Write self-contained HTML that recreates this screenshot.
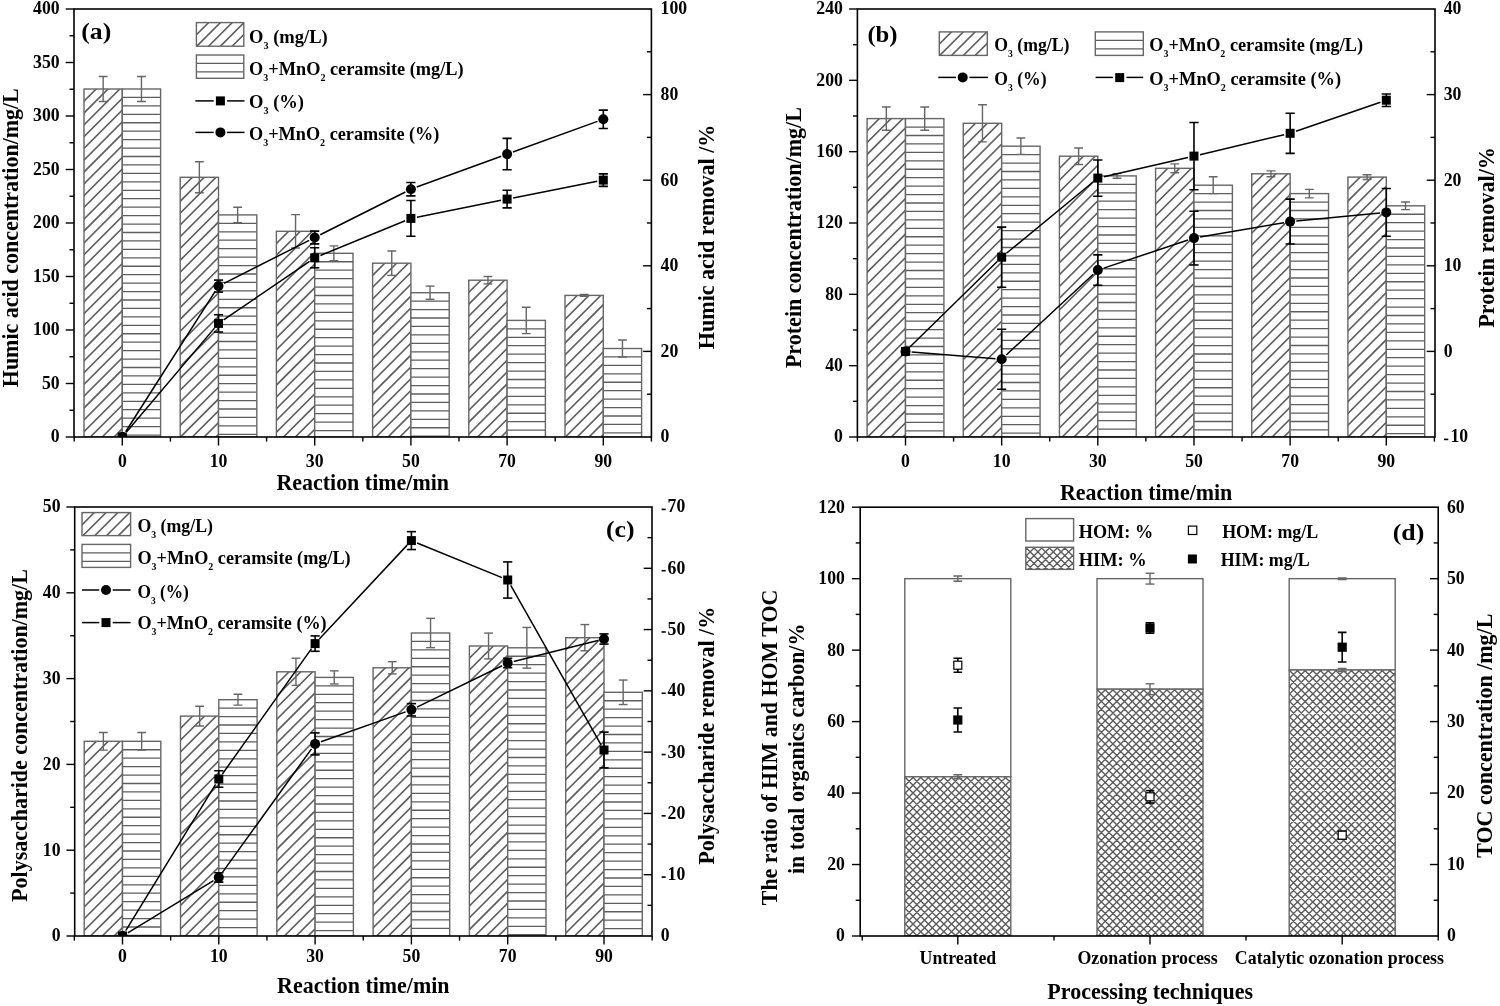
<!DOCTYPE html><html><head><meta charset="utf-8"><style>html,body{margin:0;padding:0;background:#fff;}svg{display:block;will-change:transform;}</style></head><body><svg width="1500" height="1006" viewBox="0 0 1500 1006" font-family="'Liberation Serif', serif" font-weight="bold" fill="#000">
<defs>
 <clipPath id="clipA"><rect x="74" y="9" width="577.4" height="428"/></clipPath>
 <clipPath id="clipB"><rect x="857.4" y="9" width="577.6" height="428"/></clipPath>
 <clipPath id="clipC"><rect x="74.7" y="507" width="577.3" height="429"/></clipPath>
 <clipPath id="clipD"><rect x="860.2" y="507.2" width="578" height="428.8"/></clipPath>
<clipPath id="c0"><rect x="84" y="89" width="38.3" height="348"/></clipPath><clipPath id="c1"><rect x="122.3" y="89" width="38.3" height="348"/></clipPath><clipPath id="c2"><rect x="180.2" y="177.3" width="38.3" height="259.7"/></clipPath><clipPath id="c3"><rect x="218.5" y="214.9" width="38.3" height="222.1"/></clipPath><clipPath id="c4"><rect x="276.4" y="231.3" width="38.3" height="205.7"/></clipPath><clipPath id="c5"><rect x="314.7" y="253.3" width="38.3" height="183.7"/></clipPath><clipPath id="c6"><rect x="372.6" y="263.2" width="38.3" height="173.8"/></clipPath><clipPath id="c7"><rect x="410.9" y="292.7" width="38.3" height="144.3"/></clipPath><clipPath id="c8"><rect x="468.8" y="280.2" width="38.3" height="156.8"/></clipPath><clipPath id="c9"><rect x="507.1" y="320.4" width="38.3" height="116.6"/></clipPath><clipPath id="c10"><rect x="565" y="295.4" width="38.3" height="141.6"/></clipPath><clipPath id="c11"><rect x="603.3" y="348.5" width="38.3" height="88.5"/></clipPath><clipPath id="c12"><rect x="196.4" y="22.6" width="47.4" height="23.6"/></clipPath><clipPath id="c13"><rect x="196.4" y="55" width="47.4" height="23.3"/></clipPath><clipPath id="c14"><rect x="867.1" y="118.6" width="38.4" height="318.4"/></clipPath><clipPath id="c15"><rect x="905.5" y="118.6" width="38.4" height="318.4"/></clipPath><clipPath id="c16"><rect x="963.26" y="123.3" width="38.4" height="313.7"/></clipPath><clipPath id="c17"><rect x="1001.66" y="146.2" width="38.4" height="290.8"/></clipPath><clipPath id="c18"><rect x="1059.42" y="156.2" width="38.4" height="280.8"/></clipPath><clipPath id="c19"><rect x="1097.82" y="175.9" width="38.4" height="261.1"/></clipPath><clipPath id="c20"><rect x="1155.58" y="168.3" width="38.4" height="268.7"/></clipPath><clipPath id="c21"><rect x="1193.98" y="185.2" width="38.4" height="251.8"/></clipPath><clipPath id="c22"><rect x="1251.74" y="173.8" width="38.4" height="263.2"/></clipPath><clipPath id="c23"><rect x="1290.14" y="193.6" width="38.4" height="243.4"/></clipPath><clipPath id="c24"><rect x="1347.9" y="177.1" width="38.4" height="259.9"/></clipPath><clipPath id="c25"><rect x="1386.3" y="205.8" width="38.4" height="231.2"/></clipPath><clipPath id="c26"><rect x="939.3" y="31.9" width="48" height="23.5"/></clipPath><clipPath id="c27"><rect x="1095.3" y="31.9" width="48" height="23.5"/></clipPath><clipPath id="c28"><rect x="84.2" y="741.3" width="38.3" height="194.7"/></clipPath><clipPath id="c29"><rect x="122.5" y="741.3" width="38.3" height="194.7"/></clipPath><clipPath id="c30"><rect x="180.5" y="716.1" width="38.3" height="219.9"/></clipPath><clipPath id="c31"><rect x="218.8" y="699.7" width="38.3" height="236.3"/></clipPath><clipPath id="c32"><rect x="276.8" y="671.8" width="38.3" height="264.2"/></clipPath><clipPath id="c33"><rect x="315.1" y="677.4" width="38.3" height="258.6"/></clipPath><clipPath id="c34"><rect x="373.1" y="667.8" width="38.3" height="268.2"/></clipPath><clipPath id="c35"><rect x="411.4" y="633" width="38.3" height="303"/></clipPath><clipPath id="c36"><rect x="469.4" y="646" width="38.3" height="290"/></clipPath><clipPath id="c37"><rect x="507.7" y="647.8" width="38.3" height="288.2"/></clipPath><clipPath id="c38"><rect x="565.7" y="637.7" width="38.3" height="298.3"/></clipPath><clipPath id="c39"><rect x="604" y="692.3" width="38.3" height="243.7"/></clipPath><clipPath id="c40"><rect x="82" y="512.6" width="48.6" height="23"/></clipPath><clipPath id="c41"><rect x="82" y="544.4" width="48.6" height="23"/></clipPath><clipPath id="c42"><rect x="904.8" y="776.8" width="106" height="159.2"/></clipPath><clipPath id="c43"><rect x="1097" y="689.2" width="106" height="246.8"/></clipPath><clipPath id="c44"><rect x="1289.2" y="670" width="106" height="266"/></clipPath><clipPath id="c45"><rect x="1025.8" y="547.3" width="47.8" height="22.1"/></clipPath></defs>
<rect width="1500" height="1006" fill="#fff"/><g clip-path="url(#clipA)">
<rect x="84" y="89" width="38.3" height="348" fill="#fff"/>
<path clip-path="url(#c0)" d="M82,91.4L124.3,49.1M82,103.2L124.3,60.9M82,115L124.3,72.7M82,126.8L124.3,84.5M82,138.6L124.3,96.3M82,150.4L124.3,108.1M82,162.2L124.3,119.9M82,174L124.3,131.7M82,185.8L124.3,143.5M82,197.6L124.3,155.3M82,209.4L124.3,167.1M82,221.2L124.3,178.9M82,233L124.3,190.7M82,244.8L124.3,202.5M82,256.6L124.3,214.3M82,268.4L124.3,226.1M82,280.2L124.3,237.9M82,292L124.3,249.7M82,303.8L124.3,261.5M82,315.6L124.3,273.3M82,327.4L124.3,285.1M82,339.2L124.3,296.9M82,351L124.3,308.7M82,362.8L124.3,320.5M82,374.6L124.3,332.3M82,386.4L124.3,344.1M82,398.2L124.3,355.9M82,410L124.3,367.7M82,421.8L124.3,379.5M82,433.6L124.3,391.3M82,445.4L124.3,403.1M82,457.2L124.3,414.9M82,469L124.3,426.7" stroke="#5e5e5e" stroke-width="1.6" fill="none"/>
<rect x="84" y="89" width="38.3" height="348" fill="none" stroke="#666666" stroke-width="1.4"/>
<rect x="122.3" y="89" width="38.3" height="348" fill="#fff"/>
<path clip-path="url(#c1)" d="M122.3,97.44H160.6M122.3,105.88H160.6M122.3,114.32H160.6M122.3,122.76H160.6M122.3,131.2H160.6M122.3,139.64H160.6M122.3,148.08H160.6M122.3,156.52H160.6M122.3,164.96H160.6M122.3,173.4H160.6M122.3,181.84H160.6M122.3,190.28H160.6M122.3,198.72H160.6M122.3,207.16H160.6M122.3,215.6H160.6M122.3,224.04H160.6M122.3,232.48H160.6M122.3,240.92H160.6M122.3,249.36H160.6M122.3,257.8H160.6M122.3,266.24H160.6M122.3,274.68H160.6M122.3,283.12H160.6M122.3,291.56H160.6M122.3,300H160.6M122.3,308.44H160.6M122.3,316.88H160.6M122.3,325.32H160.6M122.3,333.76H160.6M122.3,342.2H160.6M122.3,350.64H160.6M122.3,359.08H160.6M122.3,367.52H160.6M122.3,375.96H160.6M122.3,384.4H160.6M122.3,392.84H160.6M122.3,401.28H160.6M122.3,409.72H160.6M122.3,418.16H160.6M122.3,426.6H160.6M122.3,435.04H160.6" stroke="#5e5e5e" stroke-width="1.3" fill="none"/>
<rect x="122.3" y="89" width="38.3" height="348" fill="none" stroke="#666666" stroke-width="1.4"/>
<rect x="180.2" y="177.3" width="38.3" height="259.7" fill="#fff"/>
<path clip-path="url(#c2)" d="M178.2,179.7L220.5,137.4M178.2,191.5L220.5,149.2M178.2,203.3L220.5,161M178.2,215.1L220.5,172.8M178.2,226.9L220.5,184.6M178.2,238.7L220.5,196.4M178.2,250.5L220.5,208.2M178.2,262.3L220.5,220M178.2,274.1L220.5,231.8M178.2,285.9L220.5,243.6M178.2,297.7L220.5,255.4M178.2,309.5L220.5,267.2M178.2,321.3L220.5,279M178.2,333.1L220.5,290.8M178.2,344.9L220.5,302.6M178.2,356.7L220.5,314.4M178.2,368.5L220.5,326.2M178.2,380.3L220.5,338M178.2,392.1L220.5,349.8M178.2,403.9L220.5,361.6M178.2,415.7L220.5,373.4M178.2,427.5L220.5,385.2M178.2,439.3L220.5,397M178.2,451.1L220.5,408.8M178.2,462.9L220.5,420.6M178.2,474.7L220.5,432.4" stroke="#5e5e5e" stroke-width="1.6" fill="none"/>
<rect x="180.2" y="177.3" width="38.3" height="259.7" fill="none" stroke="#666666" stroke-width="1.4"/>
<rect x="218.5" y="214.9" width="38.3" height="222.1" fill="#fff"/>
<path clip-path="url(#c3)" d="M218.5,223.34H256.8M218.5,231.78H256.8M218.5,240.22H256.8M218.5,248.66H256.8M218.5,257.1H256.8M218.5,265.54H256.8M218.5,273.98H256.8M218.5,282.42H256.8M218.5,290.86H256.8M218.5,299.3H256.8M218.5,307.74H256.8M218.5,316.18H256.8M218.5,324.62H256.8M218.5,333.06H256.8M218.5,341.5H256.8M218.5,349.94H256.8M218.5,358.38H256.8M218.5,366.82H256.8M218.5,375.26H256.8M218.5,383.7H256.8M218.5,392.14H256.8M218.5,400.58H256.8M218.5,409.02H256.8M218.5,417.46H256.8M218.5,425.9H256.8M218.5,434.34H256.8" stroke="#5e5e5e" stroke-width="1.3" fill="none"/>
<rect x="218.5" y="214.9" width="38.3" height="222.1" fill="none" stroke="#666666" stroke-width="1.4"/>
<rect x="276.4" y="231.3" width="38.3" height="205.7" fill="#fff"/>
<path clip-path="url(#c4)" d="M274.4,233.7L316.7,191.4M274.4,245.5L316.7,203.2M274.4,257.3L316.7,215M274.4,269.1L316.7,226.8M274.4,280.9L316.7,238.6M274.4,292.7L316.7,250.4M274.4,304.5L316.7,262.2M274.4,316.3L316.7,274M274.4,328.1L316.7,285.8M274.4,339.9L316.7,297.6M274.4,351.7L316.7,309.4M274.4,363.5L316.7,321.2M274.4,375.3L316.7,333M274.4,387.1L316.7,344.8M274.4,398.9L316.7,356.6M274.4,410.7L316.7,368.4M274.4,422.5L316.7,380.2M274.4,434.3L316.7,392M274.4,446.1L316.7,403.8M274.4,457.9L316.7,415.6M274.4,469.7L316.7,427.4" stroke="#5e5e5e" stroke-width="1.6" fill="none"/>
<rect x="276.4" y="231.3" width="38.3" height="205.7" fill="none" stroke="#666666" stroke-width="1.4"/>
<rect x="314.7" y="253.3" width="38.3" height="183.7" fill="#fff"/>
<path clip-path="url(#c5)" d="M314.7,261.74H353M314.7,270.18H353M314.7,278.62H353M314.7,287.06H353M314.7,295.5H353M314.7,303.94H353M314.7,312.38H353M314.7,320.82H353M314.7,329.26H353M314.7,337.7H353M314.7,346.14H353M314.7,354.58H353M314.7,363.02H353M314.7,371.46H353M314.7,379.9H353M314.7,388.34H353M314.7,396.78H353M314.7,405.22H353M314.7,413.66H353M314.7,422.1H353M314.7,430.54H353" stroke="#5e5e5e" stroke-width="1.3" fill="none"/>
<rect x="314.7" y="253.3" width="38.3" height="183.7" fill="none" stroke="#666666" stroke-width="1.4"/>
<rect x="372.6" y="263.2" width="38.3" height="173.8" fill="#fff"/>
<path clip-path="url(#c6)" d="M370.6,265.6L412.9,223.3M370.6,277.4L412.9,235.1M370.6,289.2L412.9,246.9M370.6,301L412.9,258.7M370.6,312.8L412.9,270.5M370.6,324.6L412.9,282.3M370.6,336.4L412.9,294.1M370.6,348.2L412.9,305.9M370.6,360L412.9,317.7M370.6,371.8L412.9,329.5M370.6,383.6L412.9,341.3M370.6,395.4L412.9,353.1M370.6,407.2L412.9,364.9M370.6,419L412.9,376.7M370.6,430.8L412.9,388.5M370.6,442.6L412.9,400.3M370.6,454.4L412.9,412.1M370.6,466.2L412.9,423.9" stroke="#5e5e5e" stroke-width="1.6" fill="none"/>
<rect x="372.6" y="263.2" width="38.3" height="173.8" fill="none" stroke="#666666" stroke-width="1.4"/>
<rect x="410.9" y="292.7" width="38.3" height="144.3" fill="#fff"/>
<path clip-path="url(#c7)" d="M410.9,301.14H449.2M410.9,309.58H449.2M410.9,318.02H449.2M410.9,326.46H449.2M410.9,334.9H449.2M410.9,343.34H449.2M410.9,351.78H449.2M410.9,360.22H449.2M410.9,368.66H449.2M410.9,377.1H449.2M410.9,385.54H449.2M410.9,393.98H449.2M410.9,402.42H449.2M410.9,410.86H449.2M410.9,419.3H449.2M410.9,427.74H449.2M410.9,436.18H449.2" stroke="#5e5e5e" stroke-width="1.3" fill="none"/>
<rect x="410.9" y="292.7" width="38.3" height="144.3" fill="none" stroke="#666666" stroke-width="1.4"/>
<rect x="468.8" y="280.2" width="38.3" height="156.8" fill="#fff"/>
<path clip-path="url(#c8)" d="M466.8,282.6L509.1,240.3M466.8,294.4L509.1,252.1M466.8,306.2L509.1,263.9M466.8,318L509.1,275.7M466.8,329.8L509.1,287.5M466.8,341.6L509.1,299.3M466.8,353.4L509.1,311.1M466.8,365.2L509.1,322.9M466.8,377L509.1,334.7M466.8,388.8L509.1,346.5M466.8,400.6L509.1,358.3M466.8,412.4L509.1,370.1M466.8,424.2L509.1,381.9M466.8,436L509.1,393.7M466.8,447.8L509.1,405.5M466.8,459.6L509.1,417.3M466.8,471.4L509.1,429.1" stroke="#5e5e5e" stroke-width="1.6" fill="none"/>
<rect x="468.8" y="280.2" width="38.3" height="156.8" fill="none" stroke="#666666" stroke-width="1.4"/>
<rect x="507.1" y="320.4" width="38.3" height="116.6" fill="#fff"/>
<path clip-path="url(#c9)" d="M507.1,328.84H545.4M507.1,337.28H545.4M507.1,345.72H545.4M507.1,354.16H545.4M507.1,362.6H545.4M507.1,371.04H545.4M507.1,379.48H545.4M507.1,387.92H545.4M507.1,396.36H545.4M507.1,404.8H545.4M507.1,413.24H545.4M507.1,421.68H545.4M507.1,430.12H545.4" stroke="#5e5e5e" stroke-width="1.3" fill="none"/>
<rect x="507.1" y="320.4" width="38.3" height="116.6" fill="none" stroke="#666666" stroke-width="1.4"/>
<rect x="565" y="295.4" width="38.3" height="141.6" fill="#fff"/>
<path clip-path="url(#c10)" d="M563,297.8L605.3,255.5M563,309.6L605.3,267.3M563,321.4L605.3,279.1M563,333.2L605.3,290.9M563,345L605.3,302.7M563,356.8L605.3,314.5M563,368.6L605.3,326.3M563,380.4L605.3,338.1M563,392.2L605.3,349.9M563,404L605.3,361.7M563,415.8L605.3,373.5M563,427.6L605.3,385.3M563,439.4L605.3,397.1M563,451.2L605.3,408.9M563,463L605.3,420.7M563,474.8L605.3,432.5" stroke="#5e5e5e" stroke-width="1.6" fill="none"/>
<rect x="565" y="295.4" width="38.3" height="141.6" fill="none" stroke="#666666" stroke-width="1.4"/>
<rect x="603.3" y="348.5" width="38.3" height="88.5" fill="#fff"/>
<path clip-path="url(#c11)" d="M603.3,356.94H641.6M603.3,365.38H641.6M603.3,373.82H641.6M603.3,382.26H641.6M603.3,390.7H641.6M603.3,399.14H641.6M603.3,407.58H641.6M603.3,416.02H641.6M603.3,424.46H641.6M603.3,432.9H641.6" stroke="#5e5e5e" stroke-width="1.3" fill="none"/>
<rect x="603.3" y="348.5" width="38.3" height="88.5" fill="none" stroke="#666666" stroke-width="1.4"/>
<line x1="103.15" y1="76.5" x2="103.15" y2="101.5" stroke="#666666" stroke-width="1.4"/>
<line x1="98.75" y1="76.5" x2="107.55" y2="76.5" stroke="#666666" stroke-width="1.4"/>
<line x1="98.75" y1="101.5" x2="107.55" y2="101.5" stroke="#666666" stroke-width="1.4"/>
<line x1="141.45" y1="76.5" x2="141.45" y2="101.5" stroke="#666666" stroke-width="1.4"/>
<line x1="137.05" y1="76.5" x2="145.85" y2="76.5" stroke="#666666" stroke-width="1.4"/>
<line x1="137.05" y1="101.5" x2="145.85" y2="101.5" stroke="#666666" stroke-width="1.4"/>
<line x1="199.35" y1="161.8" x2="199.35" y2="192.8" stroke="#666666" stroke-width="1.4"/>
<line x1="194.95" y1="161.8" x2="203.75" y2="161.8" stroke="#666666" stroke-width="1.4"/>
<line x1="194.95" y1="192.8" x2="203.75" y2="192.8" stroke="#666666" stroke-width="1.4"/>
<line x1="237.65" y1="207.2" x2="237.65" y2="222.6" stroke="#666666" stroke-width="1.4"/>
<line x1="233.25" y1="207.2" x2="242.05" y2="207.2" stroke="#666666" stroke-width="1.4"/>
<line x1="233.25" y1="222.6" x2="242.05" y2="222.6" stroke="#666666" stroke-width="1.4"/>
<line x1="295.55" y1="214.6" x2="295.55" y2="248" stroke="#666666" stroke-width="1.4"/>
<line x1="291.15" y1="214.6" x2="299.95" y2="214.6" stroke="#666666" stroke-width="1.4"/>
<line x1="291.15" y1="248" x2="299.95" y2="248" stroke="#666666" stroke-width="1.4"/>
<line x1="333.85" y1="245.9" x2="333.85" y2="260.7" stroke="#666666" stroke-width="1.4"/>
<line x1="329.45" y1="245.9" x2="338.25" y2="245.9" stroke="#666666" stroke-width="1.4"/>
<line x1="329.45" y1="260.7" x2="338.25" y2="260.7" stroke="#666666" stroke-width="1.4"/>
<line x1="391.75" y1="251" x2="391.75" y2="275.4" stroke="#666666" stroke-width="1.4"/>
<line x1="387.35" y1="251" x2="396.15" y2="251" stroke="#666666" stroke-width="1.4"/>
<line x1="387.35" y1="275.4" x2="396.15" y2="275.4" stroke="#666666" stroke-width="1.4"/>
<line x1="430.05" y1="286.1" x2="430.05" y2="299.3" stroke="#666666" stroke-width="1.4"/>
<line x1="425.65" y1="286.1" x2="434.45" y2="286.1" stroke="#666666" stroke-width="1.4"/>
<line x1="425.65" y1="299.3" x2="434.45" y2="299.3" stroke="#666666" stroke-width="1.4"/>
<line x1="487.95" y1="276.5" x2="487.95" y2="283.9" stroke="#666666" stroke-width="1.4"/>
<line x1="483.55" y1="276.5" x2="492.35" y2="276.5" stroke="#666666" stroke-width="1.4"/>
<line x1="483.55" y1="283.9" x2="492.35" y2="283.9" stroke="#666666" stroke-width="1.4"/>
<line x1="526.25" y1="307.2" x2="526.25" y2="333.6" stroke="#666666" stroke-width="1.4"/>
<line x1="521.85" y1="307.2" x2="530.65" y2="307.2" stroke="#666666" stroke-width="1.4"/>
<line x1="521.85" y1="333.6" x2="530.65" y2="333.6" stroke="#666666" stroke-width="1.4"/>
<line x1="584.15" y1="294.4" x2="584.15" y2="296.4" stroke="#666666" stroke-width="1.4"/>
<line x1="579.75" y1="294.4" x2="588.55" y2="294.4" stroke="#666666" stroke-width="1.4"/>
<line x1="579.75" y1="296.4" x2="588.55" y2="296.4" stroke="#666666" stroke-width="1.4"/>
<line x1="622.45" y1="340" x2="622.45" y2="357" stroke="#666666" stroke-width="1.4"/>
<line x1="618.05" y1="340" x2="626.85" y2="340" stroke="#666666" stroke-width="1.4"/>
<line x1="618.05" y1="357" x2="626.85" y2="357" stroke="#666666" stroke-width="1.4"/>
<path d="M125.63,431.77 L215.17,291.33 M224.03,283.3 L309.17,240.3 M320.24,234.72 L405.36,191.98 M416.72,187.07 L501.28,156.23 M512.93,151.99 L597.47,121.41" fill="none" stroke="#000" stroke-width="1.5"/>
<path d="M126.31,432.27 L214.49,328.13 M223.62,319.91 L309.58,261.29 M320.44,255.45 L405.16,220.75 M416.98,217.18 L501.02,200.32 M513.18,197.9 L597.22,181.3" fill="none" stroke="#000" stroke-width="1.5"/>
<circle cx="122.3" cy="437" r="5.0" fill="#000"/>
<line x1="218.5" y1="280.1" x2="218.5" y2="292.1" stroke="#000" stroke-width="1.6"/>
<line x1="213.9" y1="280.1" x2="223.1" y2="280.1" stroke="#000" stroke-width="1.6"/>
<line x1="213.9" y1="292.1" x2="223.1" y2="292.1" stroke="#000" stroke-width="1.6"/>
<circle cx="218.5" cy="286.1" r="5.0" fill="#000"/>
<line x1="314.7" y1="231.1" x2="314.7" y2="243.9" stroke="#000" stroke-width="1.6"/>
<line x1="310.1" y1="231.1" x2="319.3" y2="231.1" stroke="#000" stroke-width="1.6"/>
<line x1="310.1" y1="243.9" x2="319.3" y2="243.9" stroke="#000" stroke-width="1.6"/>
<circle cx="314.7" cy="237.5" r="5.0" fill="#000"/>
<line x1="410.9" y1="182.5" x2="410.9" y2="195.9" stroke="#000" stroke-width="1.6"/>
<line x1="406.3" y1="182.5" x2="415.5" y2="182.5" stroke="#000" stroke-width="1.6"/>
<line x1="406.3" y1="195.9" x2="415.5" y2="195.9" stroke="#000" stroke-width="1.6"/>
<circle cx="410.9" cy="189.2" r="5.0" fill="#000"/>
<line x1="507.1" y1="138.4" x2="507.1" y2="169.8" stroke="#000" stroke-width="1.6"/>
<line x1="502.5" y1="138.4" x2="511.7" y2="138.4" stroke="#000" stroke-width="1.6"/>
<line x1="502.5" y1="169.8" x2="511.7" y2="169.8" stroke="#000" stroke-width="1.6"/>
<circle cx="507.1" cy="154.1" r="5.0" fill="#000"/>
<line x1="603.3" y1="110.1" x2="603.3" y2="128.5" stroke="#000" stroke-width="1.6"/>
<line x1="598.7" y1="110.1" x2="607.9" y2="110.1" stroke="#000" stroke-width="1.6"/>
<line x1="598.7" y1="128.5" x2="607.9" y2="128.5" stroke="#000" stroke-width="1.6"/>
<circle cx="603.3" cy="119.3" r="5.0" fill="#000"/>
<rect x="117.8" y="432.5" width="9" height="9" fill="#000"/>
<line x1="218.5" y1="314.75" x2="218.5" y2="332.05" stroke="#000" stroke-width="1.6"/>
<line x1="213.9" y1="314.75" x2="223.1" y2="314.75" stroke="#000" stroke-width="1.6"/>
<line x1="213.9" y1="332.05" x2="223.1" y2="332.05" stroke="#000" stroke-width="1.6"/>
<rect x="214" y="318.9" width="9" height="9" fill="#000"/>
<line x1="314.7" y1="247.8" x2="314.7" y2="267.8" stroke="#000" stroke-width="1.6"/>
<line x1="310.1" y1="247.8" x2="319.3" y2="247.8" stroke="#000" stroke-width="1.6"/>
<line x1="310.1" y1="267.8" x2="319.3" y2="267.8" stroke="#000" stroke-width="1.6"/>
<rect x="310.2" y="253.3" width="9" height="9" fill="#000"/>
<line x1="410.9" y1="200.5" x2="410.9" y2="236.3" stroke="#000" stroke-width="1.6"/>
<line x1="406.3" y1="200.5" x2="415.5" y2="200.5" stroke="#000" stroke-width="1.6"/>
<line x1="406.3" y1="236.3" x2="415.5" y2="236.3" stroke="#000" stroke-width="1.6"/>
<rect x="406.4" y="213.9" width="9" height="9" fill="#000"/>
<line x1="507.1" y1="190.3" x2="507.1" y2="207.9" stroke="#000" stroke-width="1.6"/>
<line x1="502.5" y1="190.3" x2="511.7" y2="190.3" stroke="#000" stroke-width="1.6"/>
<line x1="502.5" y1="207.9" x2="511.7" y2="207.9" stroke="#000" stroke-width="1.6"/>
<rect x="502.6" y="194.6" width="9" height="9" fill="#000"/>
<line x1="603.3" y1="173.85" x2="603.3" y2="186.35" stroke="#000" stroke-width="1.6"/>
<line x1="598.7" y1="173.85" x2="607.9" y2="173.85" stroke="#000" stroke-width="1.6"/>
<line x1="598.7" y1="186.35" x2="607.9" y2="186.35" stroke="#000" stroke-width="1.6"/>
<rect x="598.8" y="175.6" width="9" height="9" fill="#000"/>
</g>
<rect x="74" y="9" width="577.4" height="428" fill="none" stroke="#000" stroke-width="1.6"/>
<line x1="74" y1="437" x2="65.7" y2="437" stroke="#000" stroke-width="1.4"/>
<line x1="74" y1="410.25" x2="69.5" y2="410.25" stroke="#000" stroke-width="1.4"/>
<line x1="74" y1="383.5" x2="65.7" y2="383.5" stroke="#000" stroke-width="1.4"/>
<line x1="74" y1="356.75" x2="69.5" y2="356.75" stroke="#000" stroke-width="1.4"/>
<line x1="74" y1="330" x2="65.7" y2="330" stroke="#000" stroke-width="1.4"/>
<line x1="74" y1="303.25" x2="69.5" y2="303.25" stroke="#000" stroke-width="1.4"/>
<line x1="74" y1="276.5" x2="65.7" y2="276.5" stroke="#000" stroke-width="1.4"/>
<line x1="74" y1="249.75" x2="69.5" y2="249.75" stroke="#000" stroke-width="1.4"/>
<line x1="74" y1="223" x2="65.7" y2="223" stroke="#000" stroke-width="1.4"/>
<line x1="74" y1="196.25" x2="69.5" y2="196.25" stroke="#000" stroke-width="1.4"/>
<line x1="74" y1="169.5" x2="65.7" y2="169.5" stroke="#000" stroke-width="1.4"/>
<line x1="74" y1="142.75" x2="69.5" y2="142.75" stroke="#000" stroke-width="1.4"/>
<line x1="74" y1="116" x2="65.7" y2="116" stroke="#000" stroke-width="1.4"/>
<line x1="74" y1="89.25" x2="69.5" y2="89.25" stroke="#000" stroke-width="1.4"/>
<line x1="74" y1="62.5" x2="65.7" y2="62.5" stroke="#000" stroke-width="1.4"/>
<line x1="74" y1="35.75" x2="69.5" y2="35.75" stroke="#000" stroke-width="1.4"/>
<line x1="74" y1="9" x2="65.7" y2="9" stroke="#000" stroke-width="1.4"/>
<line x1="651.4" y1="394.2" x2="646.9" y2="394.2" stroke="#000" stroke-width="1.4"/>
<line x1="651.4" y1="351.4" x2="643.1" y2="351.4" stroke="#000" stroke-width="1.4"/>
<line x1="651.4" y1="308.6" x2="646.9" y2="308.6" stroke="#000" stroke-width="1.4"/>
<line x1="651.4" y1="265.8" x2="643.1" y2="265.8" stroke="#000" stroke-width="1.4"/>
<line x1="651.4" y1="223" x2="646.9" y2="223" stroke="#000" stroke-width="1.4"/>
<line x1="651.4" y1="180.2" x2="643.1" y2="180.2" stroke="#000" stroke-width="1.4"/>
<line x1="651.4" y1="137.4" x2="646.9" y2="137.4" stroke="#000" stroke-width="1.4"/>
<line x1="651.4" y1="94.6" x2="643.1" y2="94.6" stroke="#000" stroke-width="1.4"/>
<line x1="651.4" y1="51.8" x2="646.9" y2="51.8" stroke="#000" stroke-width="1.4"/>
<line x1="122.3" y1="437" x2="122.3" y2="445.5" stroke="#000" stroke-width="1.4"/>
<line x1="218.5" y1="437" x2="218.5" y2="445.5" stroke="#000" stroke-width="1.4"/>
<line x1="314.7" y1="437" x2="314.7" y2="445.5" stroke="#000" stroke-width="1.4"/>
<line x1="410.9" y1="437" x2="410.9" y2="445.5" stroke="#000" stroke-width="1.4"/>
<line x1="507.1" y1="437" x2="507.1" y2="445.5" stroke="#000" stroke-width="1.4"/>
<line x1="603.3" y1="437" x2="603.3" y2="445.5" stroke="#000" stroke-width="1.4"/>
<line x1="74.2" y1="437" x2="74.2" y2="441.6" stroke="#000" stroke-width="1.4"/>
<line x1="170.4" y1="437" x2="170.4" y2="441.6" stroke="#000" stroke-width="1.4"/>
<line x1="266.6" y1="437" x2="266.6" y2="441.6" stroke="#000" stroke-width="1.4"/>
<line x1="362.8" y1="437" x2="362.8" y2="441.6" stroke="#000" stroke-width="1.4"/>
<line x1="459" y1="437" x2="459" y2="441.6" stroke="#000" stroke-width="1.4"/>
<line x1="555.2" y1="437" x2="555.2" y2="441.6" stroke="#000" stroke-width="1.4"/>
<line x1="651.4" y1="437" x2="651.4" y2="441.6" stroke="#000" stroke-width="1.4"/>
<text x="59.6" y="442.4" font-size="18.5" text-anchor="end" textLength="8.85" lengthAdjust="spacingAndGlyphs">0</text>
<text x="59.6" y="388.9" font-size="18.5" text-anchor="end" textLength="17.7" lengthAdjust="spacingAndGlyphs">50</text>
<text x="59.6" y="335.4" font-size="18.5" text-anchor="end" textLength="26.55" lengthAdjust="spacingAndGlyphs">100</text>
<text x="59.6" y="281.9" font-size="18.5" text-anchor="end" textLength="26.55" lengthAdjust="spacingAndGlyphs">150</text>
<text x="59.6" y="228.4" font-size="18.5" text-anchor="end" textLength="26.55" lengthAdjust="spacingAndGlyphs">200</text>
<text x="59.6" y="174.9" font-size="18.5" text-anchor="end" textLength="26.55" lengthAdjust="spacingAndGlyphs">250</text>
<text x="59.6" y="121.4" font-size="18.5" text-anchor="end" textLength="26.55" lengthAdjust="spacingAndGlyphs">300</text>
<text x="59.6" y="67.9" font-size="18.5" text-anchor="end" textLength="26.55" lengthAdjust="spacingAndGlyphs">350</text>
<text x="59.6" y="14.4" font-size="18.5" text-anchor="end" textLength="26.55" lengthAdjust="spacingAndGlyphs">400</text>
<text x="660.6" y="442.4" font-size="18.5" textLength="8.85" lengthAdjust="spacingAndGlyphs">0</text>
<text x="660.6" y="356.8" font-size="18.5" textLength="17.7" lengthAdjust="spacingAndGlyphs">20</text>
<text x="660.6" y="271.2" font-size="18.5" textLength="17.7" lengthAdjust="spacingAndGlyphs">40</text>
<text x="660.6" y="185.6" font-size="18.5" textLength="17.7" lengthAdjust="spacingAndGlyphs">60</text>
<text x="660.6" y="100" font-size="18.5" textLength="17.7" lengthAdjust="spacingAndGlyphs">80</text>
<text x="660.6" y="14.4" font-size="18.5" textLength="26.55" lengthAdjust="spacingAndGlyphs">100</text>
<text x="122.3" y="467.3" font-size="18.5" text-anchor="middle" textLength="8.85" lengthAdjust="spacingAndGlyphs">0</text>
<text x="218.5" y="467.3" font-size="18.5" text-anchor="middle" textLength="17.7" lengthAdjust="spacingAndGlyphs">10</text>
<text x="314.7" y="467.3" font-size="18.5" text-anchor="middle" textLength="17.7" lengthAdjust="spacingAndGlyphs">30</text>
<text x="410.9" y="467.3" font-size="18.5" text-anchor="middle" textLength="17.7" lengthAdjust="spacingAndGlyphs">50</text>
<text x="507.1" y="467.3" font-size="18.5" text-anchor="middle" textLength="17.7" lengthAdjust="spacingAndGlyphs">70</text>
<text x="603.3" y="467.3" font-size="18.5" text-anchor="middle" textLength="17.7" lengthAdjust="spacingAndGlyphs">90</text>
<text x="276.4" y="490.3" font-size="23" textLength="172.6" lengthAdjust="spacingAndGlyphs">Reaction time/min</text>
<text x="17.7" y="387.2" font-size="23.2" textLength="299" lengthAdjust="spacingAndGlyphs" transform="rotate(-90 17.7 387.2)">Humic acid concentration/mg/L</text>
<text x="714.5" y="349.2" font-size="23.2" textLength="224.6" lengthAdjust="spacingAndGlyphs" transform="rotate(-90 714.5 349.2)">Humic acid removal /%</text>
<text x="81.3" y="38.7" font-size="24" textLength="30" lengthAdjust="spacingAndGlyphs">(a)</text>
<rect x="196.4" y="22.6" width="47.4" height="23.6" fill="#fff"/>
<path clip-path="url(#c12)" d="M194.4,25L245.8,-26.4M194.4,36.8L245.8,-14.6M194.4,48.6L245.8,-2.8M194.4,60.4L245.8,9M194.4,72.2L245.8,20.8M194.4,84L245.8,32.6" stroke="#5e5e5e" stroke-width="1.6" fill="none"/>
<rect x="196.4" y="22.6" width="47.4" height="23.6" fill="none" stroke="#666666" stroke-width="1.4"/>
<rect x="196.4" y="55" width="47.4" height="23.3" fill="#fff"/>
<path clip-path="url(#c13)" d="M196.4,63.44H243.8M196.4,71.88H243.8" stroke="#5e5e5e" stroke-width="1.3" fill="none"/>
<rect x="196.4" y="55" width="47.4" height="23.3" fill="none" stroke="#666666" stroke-width="1.4"/>
<line x1="195.4" y1="100.9" x2="213.7" y2="100.9" stroke="#000" stroke-width="1.5"/>
<line x1="227.1" y1="100.9" x2="244.5" y2="100.9" stroke="#000" stroke-width="1.5"/>
<rect x="215.9" y="96.4" width="9" height="9" fill="#000"/>
<line x1="195.4" y1="132.4" x2="213.7" y2="132.4" stroke="#000" stroke-width="1.5"/>
<line x1="227.1" y1="132.4" x2="244.5" y2="132.4" stroke="#000" stroke-width="1.5"/>
<circle cx="220.4" cy="132.4" r="5.0" fill="#000"/>
<text x="249" y="43.4" font-size="18.5" textLength="78.7" lengthAdjust="spacingAndGlyphs">O<tspan font-size="10.18" dy="6">3</tspan><tspan dy="-6"> (mg/L)</tspan></text>
<text x="249" y="75.3" font-size="18.5" textLength="214.6" lengthAdjust="spacingAndGlyphs">O<tspan font-size="10.18" dy="6">3</tspan><tspan dy="-6">+MnO</tspan><tspan font-size="10.18" dy="6">2</tspan><tspan dy="-6"> ceramsite (mg/L)</tspan></text>
<text x="249" y="108" font-size="18.5" textLength="55" lengthAdjust="spacingAndGlyphs">O<tspan font-size="10.18" dy="6">3</tspan><tspan dy="-6"> (%)</tspan></text>
<text x="249" y="140" font-size="18.5" textLength="190.4" lengthAdjust="spacingAndGlyphs">O<tspan font-size="10.18" dy="6">3</tspan><tspan dy="-6">+MnO</tspan><tspan font-size="10.18" dy="6">2</tspan><tspan dy="-6"> ceramsite (%)</tspan></text>
<g clip-path="url(#clipB)">
<rect x="867.1" y="118.6" width="38.4" height="318.4" fill="#fff"/>
<path clip-path="url(#c14)" d="M865.1,121L907.5,78.6M865.1,132.8L907.5,90.4M865.1,144.6L907.5,102.2M865.1,156.4L907.5,114M865.1,168.2L907.5,125.8M865.1,180L907.5,137.6M865.1,191.8L907.5,149.4M865.1,203.6L907.5,161.2M865.1,215.4L907.5,173M865.1,227.2L907.5,184.8M865.1,239L907.5,196.6M865.1,250.8L907.5,208.4M865.1,262.6L907.5,220.2M865.1,274.4L907.5,232M865.1,286.2L907.5,243.8M865.1,298L907.5,255.6M865.1,309.8L907.5,267.4M865.1,321.6L907.5,279.2M865.1,333.4L907.5,291M865.1,345.2L907.5,302.8M865.1,357L907.5,314.6M865.1,368.8L907.5,326.4M865.1,380.6L907.5,338.2M865.1,392.4L907.5,350M865.1,404.2L907.5,361.8M865.1,416L907.5,373.6M865.1,427.8L907.5,385.4M865.1,439.6L907.5,397.2M865.1,451.4L907.5,409M865.1,463.2L907.5,420.8M865.1,475L907.5,432.6" stroke="#5e5e5e" stroke-width="1.6" fill="none"/>
<rect x="867.1" y="118.6" width="38.4" height="318.4" fill="none" stroke="#666666" stroke-width="1.4"/>
<rect x="905.5" y="118.6" width="38.4" height="318.4" fill="#fff"/>
<path clip-path="url(#c15)" d="M905.5,127.04H943.9M905.5,135.48H943.9M905.5,143.92H943.9M905.5,152.36H943.9M905.5,160.8H943.9M905.5,169.24H943.9M905.5,177.68H943.9M905.5,186.12H943.9M905.5,194.56H943.9M905.5,203H943.9M905.5,211.44H943.9M905.5,219.88H943.9M905.5,228.32H943.9M905.5,236.76H943.9M905.5,245.2H943.9M905.5,253.64H943.9M905.5,262.08H943.9M905.5,270.52H943.9M905.5,278.96H943.9M905.5,287.4H943.9M905.5,295.84H943.9M905.5,304.28H943.9M905.5,312.72H943.9M905.5,321.16H943.9M905.5,329.6H943.9M905.5,338.04H943.9M905.5,346.48H943.9M905.5,354.92H943.9M905.5,363.36H943.9M905.5,371.8H943.9M905.5,380.24H943.9M905.5,388.68H943.9M905.5,397.12H943.9M905.5,405.56H943.9M905.5,414H943.9M905.5,422.44H943.9M905.5,430.88H943.9" stroke="#5e5e5e" stroke-width="1.3" fill="none"/>
<rect x="905.5" y="118.6" width="38.4" height="318.4" fill="none" stroke="#666666" stroke-width="1.4"/>
<rect x="963.26" y="123.3" width="38.4" height="313.7" fill="#fff"/>
<path clip-path="url(#c16)" d="M961.26,125.7L1003.66,83.3M961.26,137.5L1003.66,95.1M961.26,149.3L1003.66,106.9M961.26,161.1L1003.66,118.7M961.26,172.9L1003.66,130.5M961.26,184.7L1003.66,142.3M961.26,196.5L1003.66,154.1M961.26,208.3L1003.66,165.9M961.26,220.1L1003.66,177.7M961.26,231.9L1003.66,189.5M961.26,243.7L1003.66,201.3M961.26,255.5L1003.66,213.1M961.26,267.3L1003.66,224.9M961.26,279.1L1003.66,236.7M961.26,290.9L1003.66,248.5M961.26,302.7L1003.66,260.3M961.26,314.5L1003.66,272.1M961.26,326.3L1003.66,283.9M961.26,338.1L1003.66,295.7M961.26,349.9L1003.66,307.5M961.26,361.7L1003.66,319.3M961.26,373.5L1003.66,331.1M961.26,385.3L1003.66,342.9M961.26,397.1L1003.66,354.7M961.26,408.9L1003.66,366.5M961.26,420.7L1003.66,378.3M961.26,432.5L1003.66,390.1M961.26,444.3L1003.66,401.9M961.26,456.1L1003.66,413.7M961.26,467.9L1003.66,425.5" stroke="#5e5e5e" stroke-width="1.6" fill="none"/>
<rect x="963.26" y="123.3" width="38.4" height="313.7" fill="none" stroke="#666666" stroke-width="1.4"/>
<rect x="1001.66" y="146.2" width="38.4" height="290.8" fill="#fff"/>
<path clip-path="url(#c17)" d="M1001.66,154.64H1040.06M1001.66,163.08H1040.06M1001.66,171.52H1040.06M1001.66,179.96H1040.06M1001.66,188.4H1040.06M1001.66,196.84H1040.06M1001.66,205.28H1040.06M1001.66,213.72H1040.06M1001.66,222.16H1040.06M1001.66,230.6H1040.06M1001.66,239.04H1040.06M1001.66,247.48H1040.06M1001.66,255.92H1040.06M1001.66,264.36H1040.06M1001.66,272.8H1040.06M1001.66,281.24H1040.06M1001.66,289.68H1040.06M1001.66,298.12H1040.06M1001.66,306.56H1040.06M1001.66,315H1040.06M1001.66,323.44H1040.06M1001.66,331.88H1040.06M1001.66,340.32H1040.06M1001.66,348.76H1040.06M1001.66,357.2H1040.06M1001.66,365.64H1040.06M1001.66,374.08H1040.06M1001.66,382.52H1040.06M1001.66,390.96H1040.06M1001.66,399.4H1040.06M1001.66,407.84H1040.06M1001.66,416.28H1040.06M1001.66,424.72H1040.06M1001.66,433.16H1040.06" stroke="#5e5e5e" stroke-width="1.3" fill="none"/>
<rect x="1001.66" y="146.2" width="38.4" height="290.8" fill="none" stroke="#666666" stroke-width="1.4"/>
<rect x="1059.42" y="156.2" width="38.4" height="280.8" fill="#fff"/>
<path clip-path="url(#c18)" d="M1057.42,158.6L1099.82,116.2M1057.42,170.4L1099.82,128M1057.42,182.2L1099.82,139.8M1057.42,194L1099.82,151.6M1057.42,205.8L1099.82,163.4M1057.42,217.6L1099.82,175.2M1057.42,229.4L1099.82,187M1057.42,241.2L1099.82,198.8M1057.42,253L1099.82,210.6M1057.42,264.8L1099.82,222.4M1057.42,276.6L1099.82,234.2M1057.42,288.4L1099.82,246M1057.42,300.2L1099.82,257.8M1057.42,312L1099.82,269.6M1057.42,323.8L1099.82,281.4M1057.42,335.6L1099.82,293.2M1057.42,347.4L1099.82,305M1057.42,359.2L1099.82,316.8M1057.42,371L1099.82,328.6M1057.42,382.8L1099.82,340.4M1057.42,394.6L1099.82,352.2M1057.42,406.4L1099.82,364M1057.42,418.2L1099.82,375.8M1057.42,430L1099.82,387.6M1057.42,441.8L1099.82,399.4M1057.42,453.6L1099.82,411.2M1057.42,465.4L1099.82,423M1057.42,477.2L1099.82,434.8" stroke="#5e5e5e" stroke-width="1.6" fill="none"/>
<rect x="1059.42" y="156.2" width="38.4" height="280.8" fill="none" stroke="#666666" stroke-width="1.4"/>
<rect x="1097.82" y="175.9" width="38.4" height="261.1" fill="#fff"/>
<path clip-path="url(#c19)" d="M1097.82,184.34H1136.22M1097.82,192.78H1136.22M1097.82,201.22H1136.22M1097.82,209.66H1136.22M1097.82,218.1H1136.22M1097.82,226.54H1136.22M1097.82,234.98H1136.22M1097.82,243.42H1136.22M1097.82,251.86H1136.22M1097.82,260.3H1136.22M1097.82,268.74H1136.22M1097.82,277.18H1136.22M1097.82,285.62H1136.22M1097.82,294.06H1136.22M1097.82,302.5H1136.22M1097.82,310.94H1136.22M1097.82,319.38H1136.22M1097.82,327.82H1136.22M1097.82,336.26H1136.22M1097.82,344.7H1136.22M1097.82,353.14H1136.22M1097.82,361.58H1136.22M1097.82,370.02H1136.22M1097.82,378.46H1136.22M1097.82,386.9H1136.22M1097.82,395.34H1136.22M1097.82,403.78H1136.22M1097.82,412.22H1136.22M1097.82,420.66H1136.22M1097.82,429.1H1136.22" stroke="#5e5e5e" stroke-width="1.3" fill="none"/>
<rect x="1097.82" y="175.9" width="38.4" height="261.1" fill="none" stroke="#666666" stroke-width="1.4"/>
<rect x="1155.58" y="168.3" width="38.4" height="268.7" fill="#fff"/>
<path clip-path="url(#c20)" d="M1153.58,170.7L1195.98,128.3M1153.58,182.5L1195.98,140.1M1153.58,194.3L1195.98,151.9M1153.58,206.1L1195.98,163.7M1153.58,217.9L1195.98,175.5M1153.58,229.7L1195.98,187.3M1153.58,241.5L1195.98,199.1M1153.58,253.3L1195.98,210.9M1153.58,265.1L1195.98,222.7M1153.58,276.9L1195.98,234.5M1153.58,288.7L1195.98,246.3M1153.58,300.5L1195.98,258.1M1153.58,312.3L1195.98,269.9M1153.58,324.1L1195.98,281.7M1153.58,335.9L1195.98,293.5M1153.58,347.7L1195.98,305.3M1153.58,359.5L1195.98,317.1M1153.58,371.3L1195.98,328.9M1153.58,383.1L1195.98,340.7M1153.58,394.9L1195.98,352.5M1153.58,406.7L1195.98,364.3M1153.58,418.5L1195.98,376.1M1153.58,430.3L1195.98,387.9M1153.58,442.1L1195.98,399.7M1153.58,453.9L1195.98,411.5M1153.58,465.7L1195.98,423.3" stroke="#5e5e5e" stroke-width="1.6" fill="none"/>
<rect x="1155.58" y="168.3" width="38.4" height="268.7" fill="none" stroke="#666666" stroke-width="1.4"/>
<rect x="1193.98" y="185.2" width="38.4" height="251.8" fill="#fff"/>
<path clip-path="url(#c21)" d="M1193.98,193.64H1232.38M1193.98,202.08H1232.38M1193.98,210.52H1232.38M1193.98,218.96H1232.38M1193.98,227.4H1232.38M1193.98,235.84H1232.38M1193.98,244.28H1232.38M1193.98,252.72H1232.38M1193.98,261.16H1232.38M1193.98,269.6H1232.38M1193.98,278.04H1232.38M1193.98,286.48H1232.38M1193.98,294.92H1232.38M1193.98,303.36H1232.38M1193.98,311.8H1232.38M1193.98,320.24H1232.38M1193.98,328.68H1232.38M1193.98,337.12H1232.38M1193.98,345.56H1232.38M1193.98,354H1232.38M1193.98,362.44H1232.38M1193.98,370.88H1232.38M1193.98,379.32H1232.38M1193.98,387.76H1232.38M1193.98,396.2H1232.38M1193.98,404.64H1232.38M1193.98,413.08H1232.38M1193.98,421.52H1232.38M1193.98,429.96H1232.38" stroke="#5e5e5e" stroke-width="1.3" fill="none"/>
<rect x="1193.98" y="185.2" width="38.4" height="251.8" fill="none" stroke="#666666" stroke-width="1.4"/>
<rect x="1251.74" y="173.8" width="38.4" height="263.2" fill="#fff"/>
<path clip-path="url(#c22)" d="M1249.74,176.2L1292.14,133.8M1249.74,188L1292.14,145.6M1249.74,199.8L1292.14,157.4M1249.74,211.6L1292.14,169.2M1249.74,223.4L1292.14,181M1249.74,235.2L1292.14,192.8M1249.74,247L1292.14,204.6M1249.74,258.8L1292.14,216.4M1249.74,270.6L1292.14,228.2M1249.74,282.4L1292.14,240M1249.74,294.2L1292.14,251.8M1249.74,306L1292.14,263.6M1249.74,317.8L1292.14,275.4M1249.74,329.6L1292.14,287.2M1249.74,341.4L1292.14,299M1249.74,353.2L1292.14,310.8M1249.74,365L1292.14,322.6M1249.74,376.8L1292.14,334.4M1249.74,388.6L1292.14,346.2M1249.74,400.4L1292.14,358M1249.74,412.2L1292.14,369.8M1249.74,424L1292.14,381.6M1249.74,435.8L1292.14,393.4M1249.74,447.6L1292.14,405.2M1249.74,459.4L1292.14,417M1249.74,471.2L1292.14,428.8" stroke="#5e5e5e" stroke-width="1.6" fill="none"/>
<rect x="1251.74" y="173.8" width="38.4" height="263.2" fill="none" stroke="#666666" stroke-width="1.4"/>
<rect x="1290.14" y="193.6" width="38.4" height="243.4" fill="#fff"/>
<path clip-path="url(#c23)" d="M1290.14,202.04H1328.54M1290.14,210.48H1328.54M1290.14,218.92H1328.54M1290.14,227.36H1328.54M1290.14,235.8H1328.54M1290.14,244.24H1328.54M1290.14,252.68H1328.54M1290.14,261.12H1328.54M1290.14,269.56H1328.54M1290.14,278H1328.54M1290.14,286.44H1328.54M1290.14,294.88H1328.54M1290.14,303.32H1328.54M1290.14,311.76H1328.54M1290.14,320.2H1328.54M1290.14,328.64H1328.54M1290.14,337.08H1328.54M1290.14,345.52H1328.54M1290.14,353.96H1328.54M1290.14,362.4H1328.54M1290.14,370.84H1328.54M1290.14,379.28H1328.54M1290.14,387.72H1328.54M1290.14,396.16H1328.54M1290.14,404.6H1328.54M1290.14,413.04H1328.54M1290.14,421.48H1328.54M1290.14,429.92H1328.54" stroke="#5e5e5e" stroke-width="1.3" fill="none"/>
<rect x="1290.14" y="193.6" width="38.4" height="243.4" fill="none" stroke="#666666" stroke-width="1.4"/>
<rect x="1347.9" y="177.1" width="38.4" height="259.9" fill="#fff"/>
<path clip-path="url(#c24)" d="M1345.9,179.5L1388.3,137.1M1345.9,191.3L1388.3,148.9M1345.9,203.1L1388.3,160.7M1345.9,214.9L1388.3,172.5M1345.9,226.7L1388.3,184.3M1345.9,238.5L1388.3,196.1M1345.9,250.3L1388.3,207.9M1345.9,262.1L1388.3,219.7M1345.9,273.9L1388.3,231.5M1345.9,285.7L1388.3,243.3M1345.9,297.5L1388.3,255.1M1345.9,309.3L1388.3,266.9M1345.9,321.1L1388.3,278.7M1345.9,332.9L1388.3,290.5M1345.9,344.7L1388.3,302.3M1345.9,356.5L1388.3,314.1M1345.9,368.3L1388.3,325.9M1345.9,380.1L1388.3,337.7M1345.9,391.9L1388.3,349.5M1345.9,403.7L1388.3,361.3M1345.9,415.5L1388.3,373.1M1345.9,427.3L1388.3,384.9M1345.9,439.1L1388.3,396.7M1345.9,450.9L1388.3,408.5M1345.9,462.7L1388.3,420.3M1345.9,474.5L1388.3,432.1" stroke="#5e5e5e" stroke-width="1.6" fill="none"/>
<rect x="1347.9" y="177.1" width="38.4" height="259.9" fill="none" stroke="#666666" stroke-width="1.4"/>
<rect x="1386.3" y="205.8" width="38.4" height="231.2" fill="#fff"/>
<path clip-path="url(#c25)" d="M1386.3,214.24H1424.7M1386.3,222.68H1424.7M1386.3,231.12H1424.7M1386.3,239.56H1424.7M1386.3,248H1424.7M1386.3,256.44H1424.7M1386.3,264.88H1424.7M1386.3,273.32H1424.7M1386.3,281.76H1424.7M1386.3,290.2H1424.7M1386.3,298.64H1424.7M1386.3,307.08H1424.7M1386.3,315.52H1424.7M1386.3,323.96H1424.7M1386.3,332.4H1424.7M1386.3,340.84H1424.7M1386.3,349.28H1424.7M1386.3,357.72H1424.7M1386.3,366.16H1424.7M1386.3,374.6H1424.7M1386.3,383.04H1424.7M1386.3,391.48H1424.7M1386.3,399.92H1424.7M1386.3,408.36H1424.7M1386.3,416.8H1424.7M1386.3,425.24H1424.7M1386.3,433.68H1424.7" stroke="#5e5e5e" stroke-width="1.3" fill="none"/>
<rect x="1386.3" y="205.8" width="38.4" height="231.2" fill="none" stroke="#666666" stroke-width="1.4"/>
<line x1="886.3" y1="106.95" x2="886.3" y2="130.25" stroke="#666666" stroke-width="1.4"/>
<line x1="881.9" y1="106.95" x2="890.7" y2="106.95" stroke="#666666" stroke-width="1.4"/>
<line x1="881.9" y1="130.25" x2="890.7" y2="130.25" stroke="#666666" stroke-width="1.4"/>
<line x1="924.7" y1="106.95" x2="924.7" y2="130.25" stroke="#666666" stroke-width="1.4"/>
<line x1="920.3" y1="106.95" x2="929.1" y2="106.95" stroke="#666666" stroke-width="1.4"/>
<line x1="920.3" y1="130.25" x2="929.1" y2="130.25" stroke="#666666" stroke-width="1.4"/>
<line x1="982.46" y1="104.7" x2="982.46" y2="141.9" stroke="#666666" stroke-width="1.4"/>
<line x1="978.06" y1="104.7" x2="986.86" y2="104.7" stroke="#666666" stroke-width="1.4"/>
<line x1="978.06" y1="141.9" x2="986.86" y2="141.9" stroke="#666666" stroke-width="1.4"/>
<line x1="1020.86" y1="138" x2="1020.86" y2="154.4" stroke="#666666" stroke-width="1.4"/>
<line x1="1016.46" y1="138" x2="1025.26" y2="138" stroke="#666666" stroke-width="1.4"/>
<line x1="1016.46" y1="154.4" x2="1025.26" y2="154.4" stroke="#666666" stroke-width="1.4"/>
<line x1="1078.62" y1="147.95" x2="1078.62" y2="164.45" stroke="#666666" stroke-width="1.4"/>
<line x1="1074.22" y1="147.95" x2="1083.02" y2="147.95" stroke="#666666" stroke-width="1.4"/>
<line x1="1074.22" y1="164.45" x2="1083.02" y2="164.45" stroke="#666666" stroke-width="1.4"/>
<line x1="1117.02" y1="173.6" x2="1117.02" y2="178.2" stroke="#666666" stroke-width="1.4"/>
<line x1="1112.62" y1="173.6" x2="1121.42" y2="173.6" stroke="#666666" stroke-width="1.4"/>
<line x1="1112.62" y1="178.2" x2="1121.42" y2="178.2" stroke="#666666" stroke-width="1.4"/>
<line x1="1174.78" y1="163.9" x2="1174.78" y2="172.7" stroke="#666666" stroke-width="1.4"/>
<line x1="1170.38" y1="163.9" x2="1179.18" y2="163.9" stroke="#666666" stroke-width="1.4"/>
<line x1="1170.38" y1="172.7" x2="1179.18" y2="172.7" stroke="#666666" stroke-width="1.4"/>
<line x1="1213.18" y1="176.75" x2="1213.18" y2="193.65" stroke="#666666" stroke-width="1.4"/>
<line x1="1208.78" y1="176.75" x2="1217.58" y2="176.75" stroke="#666666" stroke-width="1.4"/>
<line x1="1208.78" y1="193.65" x2="1217.58" y2="193.65" stroke="#666666" stroke-width="1.4"/>
<line x1="1270.94" y1="170.85" x2="1270.94" y2="176.75" stroke="#666666" stroke-width="1.4"/>
<line x1="1266.54" y1="170.85" x2="1275.34" y2="170.85" stroke="#666666" stroke-width="1.4"/>
<line x1="1266.54" y1="176.75" x2="1275.34" y2="176.75" stroke="#666666" stroke-width="1.4"/>
<line x1="1309.34" y1="189.35" x2="1309.34" y2="197.85" stroke="#666666" stroke-width="1.4"/>
<line x1="1304.94" y1="189.35" x2="1313.74" y2="189.35" stroke="#666666" stroke-width="1.4"/>
<line x1="1304.94" y1="197.85" x2="1313.74" y2="197.85" stroke="#666666" stroke-width="1.4"/>
<line x1="1367.1" y1="174.7" x2="1367.1" y2="179.5" stroke="#666666" stroke-width="1.4"/>
<line x1="1362.7" y1="174.7" x2="1371.5" y2="174.7" stroke="#666666" stroke-width="1.4"/>
<line x1="1362.7" y1="179.5" x2="1371.5" y2="179.5" stroke="#666666" stroke-width="1.4"/>
<line x1="1405.5" y1="201.95" x2="1405.5" y2="209.65" stroke="#666666" stroke-width="1.4"/>
<line x1="1401.1" y1="201.95" x2="1409.9" y2="201.95" stroke="#666666" stroke-width="1.4"/>
<line x1="1401.1" y1="209.65" x2="1409.9" y2="209.65" stroke="#666666" stroke-width="1.4"/>
<path d="M911.68,351.9 L995.48,358.7 M1006.21,354.99 L1093.27,274.31 M1103.7,268.14 L1188.1,240.06 M1200.09,237.05 L1284.03,222.65 M1296.31,221.01 L1380.13,212.99" fill="none" stroke="#000" stroke-width="1.5"/>
<path d="M909.93,347.06 L997.23,261.54 M1006.45,253.26 L1093.03,182.04 M1103.86,176.72 L1187.94,157.48 M1200.01,154.67 L1284.11,134.73 M1296,131.28 L1380.44,102.22" fill="none" stroke="#000" stroke-width="1.5"/>
<circle cx="905.5" cy="351.4" r="5.0" fill="#000"/>
<line x1="1001.66" y1="329.2" x2="1001.66" y2="389.2" stroke="#000" stroke-width="1.6"/>
<line x1="997.06" y1="329.2" x2="1006.26" y2="329.2" stroke="#000" stroke-width="1.6"/>
<line x1="997.06" y1="389.2" x2="1006.26" y2="389.2" stroke="#000" stroke-width="1.6"/>
<circle cx="1001.66" cy="359.2" r="5.0" fill="#000"/>
<line x1="1097.82" y1="254.9" x2="1097.82" y2="285.3" stroke="#000" stroke-width="1.6"/>
<line x1="1093.22" y1="254.9" x2="1102.42" y2="254.9" stroke="#000" stroke-width="1.6"/>
<line x1="1093.22" y1="285.3" x2="1102.42" y2="285.3" stroke="#000" stroke-width="1.6"/>
<circle cx="1097.82" cy="270.1" r="5.0" fill="#000"/>
<line x1="1193.98" y1="211.25" x2="1193.98" y2="264.95" stroke="#000" stroke-width="1.6"/>
<line x1="1189.38" y1="211.25" x2="1198.58" y2="211.25" stroke="#000" stroke-width="1.6"/>
<line x1="1189.38" y1="264.95" x2="1198.58" y2="264.95" stroke="#000" stroke-width="1.6"/>
<circle cx="1193.98" cy="238.1" r="5.0" fill="#000"/>
<line x1="1290.14" y1="199.15" x2="1290.14" y2="244.05" stroke="#000" stroke-width="1.6"/>
<line x1="1285.54" y1="199.15" x2="1294.74" y2="199.15" stroke="#000" stroke-width="1.6"/>
<line x1="1285.54" y1="244.05" x2="1294.74" y2="244.05" stroke="#000" stroke-width="1.6"/>
<circle cx="1290.14" cy="221.6" r="5.0" fill="#000"/>
<line x1="1386.3" y1="188.5" x2="1386.3" y2="236.3" stroke="#000" stroke-width="1.6"/>
<line x1="1381.7" y1="188.5" x2="1390.9" y2="188.5" stroke="#000" stroke-width="1.6"/>
<line x1="1381.7" y1="236.3" x2="1390.9" y2="236.3" stroke="#000" stroke-width="1.6"/>
<circle cx="1386.3" cy="212.4" r="5.0" fill="#000"/>
<rect x="901" y="346.9" width="9" height="9" fill="#000"/>
<line x1="1001.66" y1="227.1" x2="1001.66" y2="287.3" stroke="#000" stroke-width="1.6"/>
<line x1="997.06" y1="227.1" x2="1006.26" y2="227.1" stroke="#000" stroke-width="1.6"/>
<line x1="997.06" y1="287.3" x2="1006.26" y2="287.3" stroke="#000" stroke-width="1.6"/>
<rect x="997.16" y="252.7" width="9" height="9" fill="#000"/>
<line x1="1097.82" y1="160" x2="1097.82" y2="196.2" stroke="#000" stroke-width="1.6"/>
<line x1="1093.22" y1="160" x2="1102.42" y2="160" stroke="#000" stroke-width="1.6"/>
<line x1="1093.22" y1="196.2" x2="1102.42" y2="196.2" stroke="#000" stroke-width="1.6"/>
<rect x="1093.32" y="173.6" width="9" height="9" fill="#000"/>
<line x1="1193.98" y1="122.45" x2="1193.98" y2="189.75" stroke="#000" stroke-width="1.6"/>
<line x1="1189.38" y1="122.45" x2="1198.58" y2="122.45" stroke="#000" stroke-width="1.6"/>
<line x1="1189.38" y1="189.75" x2="1198.58" y2="189.75" stroke="#000" stroke-width="1.6"/>
<rect x="1189.48" y="151.6" width="9" height="9" fill="#000"/>
<line x1="1290.14" y1="113.25" x2="1290.14" y2="153.35" stroke="#000" stroke-width="1.6"/>
<line x1="1285.54" y1="113.25" x2="1294.74" y2="113.25" stroke="#000" stroke-width="1.6"/>
<line x1="1285.54" y1="153.35" x2="1294.74" y2="153.35" stroke="#000" stroke-width="1.6"/>
<rect x="1285.64" y="128.8" width="9" height="9" fill="#000"/>
<line x1="1386.3" y1="93.95" x2="1386.3" y2="106.45" stroke="#000" stroke-width="1.6"/>
<line x1="1381.7" y1="93.95" x2="1390.9" y2="93.95" stroke="#000" stroke-width="1.6"/>
<line x1="1381.7" y1="106.45" x2="1390.9" y2="106.45" stroke="#000" stroke-width="1.6"/>
<rect x="1381.8" y="95.7" width="9" height="9" fill="#000"/>
</g>
<rect x="857.4" y="9" width="577.6" height="428" fill="none" stroke="#000" stroke-width="1.6"/>
<line x1="857.4" y1="437" x2="849.1" y2="437" stroke="#000" stroke-width="1.4"/>
<line x1="857.4" y1="401.33" x2="852.9" y2="401.33" stroke="#000" stroke-width="1.4"/>
<line x1="857.4" y1="365.67" x2="849.1" y2="365.67" stroke="#000" stroke-width="1.4"/>
<line x1="857.4" y1="330" x2="852.9" y2="330" stroke="#000" stroke-width="1.4"/>
<line x1="857.4" y1="294.33" x2="849.1" y2="294.33" stroke="#000" stroke-width="1.4"/>
<line x1="857.4" y1="258.67" x2="852.9" y2="258.67" stroke="#000" stroke-width="1.4"/>
<line x1="857.4" y1="223" x2="849.1" y2="223" stroke="#000" stroke-width="1.4"/>
<line x1="857.4" y1="187.33" x2="852.9" y2="187.33" stroke="#000" stroke-width="1.4"/>
<line x1="857.4" y1="151.67" x2="849.1" y2="151.67" stroke="#000" stroke-width="1.4"/>
<line x1="857.4" y1="116" x2="852.9" y2="116" stroke="#000" stroke-width="1.4"/>
<line x1="857.4" y1="80.33" x2="849.1" y2="80.33" stroke="#000" stroke-width="1.4"/>
<line x1="857.4" y1="44.67" x2="852.9" y2="44.67" stroke="#000" stroke-width="1.4"/>
<line x1="857.4" y1="9" x2="849.1" y2="9" stroke="#000" stroke-width="1.4"/>
<line x1="1435" y1="394.2" x2="1430.5" y2="394.2" stroke="#000" stroke-width="1.4"/>
<line x1="1435" y1="351.4" x2="1426.7" y2="351.4" stroke="#000" stroke-width="1.4"/>
<line x1="1435" y1="308.6" x2="1430.5" y2="308.6" stroke="#000" stroke-width="1.4"/>
<line x1="1435" y1="265.8" x2="1426.7" y2="265.8" stroke="#000" stroke-width="1.4"/>
<line x1="1435" y1="223" x2="1430.5" y2="223" stroke="#000" stroke-width="1.4"/>
<line x1="1435" y1="180.2" x2="1426.7" y2="180.2" stroke="#000" stroke-width="1.4"/>
<line x1="1435" y1="137.4" x2="1430.5" y2="137.4" stroke="#000" stroke-width="1.4"/>
<line x1="1435" y1="94.6" x2="1426.7" y2="94.6" stroke="#000" stroke-width="1.4"/>
<line x1="1435" y1="51.8" x2="1430.5" y2="51.8" stroke="#000" stroke-width="1.4"/>
<line x1="905.5" y1="437" x2="905.5" y2="445.5" stroke="#000" stroke-width="1.4"/>
<line x1="1001.66" y1="437" x2="1001.66" y2="445.5" stroke="#000" stroke-width="1.4"/>
<line x1="1097.82" y1="437" x2="1097.82" y2="445.5" stroke="#000" stroke-width="1.4"/>
<line x1="1193.98" y1="437" x2="1193.98" y2="445.5" stroke="#000" stroke-width="1.4"/>
<line x1="1290.14" y1="437" x2="1290.14" y2="445.5" stroke="#000" stroke-width="1.4"/>
<line x1="1386.3" y1="437" x2="1386.3" y2="445.5" stroke="#000" stroke-width="1.4"/>
<line x1="857.42" y1="437" x2="857.42" y2="441.6" stroke="#000" stroke-width="1.4"/>
<line x1="953.58" y1="437" x2="953.58" y2="441.6" stroke="#000" stroke-width="1.4"/>
<line x1="1049.74" y1="437" x2="1049.74" y2="441.6" stroke="#000" stroke-width="1.4"/>
<line x1="1145.9" y1="437" x2="1145.9" y2="441.6" stroke="#000" stroke-width="1.4"/>
<line x1="1242.06" y1="437" x2="1242.06" y2="441.6" stroke="#000" stroke-width="1.4"/>
<line x1="1338.22" y1="437" x2="1338.22" y2="441.6" stroke="#000" stroke-width="1.4"/>
<line x1="1434.38" y1="437" x2="1434.38" y2="441.6" stroke="#000" stroke-width="1.4"/>
<text x="842.9" y="442.4" font-size="18.5" text-anchor="end" textLength="8.85" lengthAdjust="spacingAndGlyphs">0</text>
<text x="842.9" y="371.07" font-size="18.5" text-anchor="end" textLength="17.7" lengthAdjust="spacingAndGlyphs">40</text>
<text x="842.9" y="299.73" font-size="18.5" text-anchor="end" textLength="17.7" lengthAdjust="spacingAndGlyphs">80</text>
<text x="842.9" y="228.4" font-size="18.5" text-anchor="end" textLength="26.55" lengthAdjust="spacingAndGlyphs">120</text>
<text x="842.9" y="157.07" font-size="18.5" text-anchor="end" textLength="26.55" lengthAdjust="spacingAndGlyphs">160</text>
<text x="842.9" y="85.73" font-size="18.5" text-anchor="end" textLength="26.55" lengthAdjust="spacingAndGlyphs">200</text>
<text x="842.9" y="14.4" font-size="18.5" text-anchor="end" textLength="26.55" lengthAdjust="spacingAndGlyphs">240</text>
<rect x="1444.0" y="438.6" width="4.3" height="1.6" fill="#000"/>
<text x="1450.5" y="442.4" font-size="18.5" textLength="17.7" lengthAdjust="spacingAndGlyphs">10</text>
<text x="1443.7" y="356.8" font-size="18.5" textLength="8.85" lengthAdjust="spacingAndGlyphs">0</text>
<text x="1443.7" y="271.2" font-size="18.5" textLength="17.7" lengthAdjust="spacingAndGlyphs">10</text>
<text x="1443.7" y="185.6" font-size="18.5" textLength="17.7" lengthAdjust="spacingAndGlyphs">20</text>
<text x="1443.7" y="100" font-size="18.5" textLength="17.7" lengthAdjust="spacingAndGlyphs">30</text>
<text x="1443.7" y="14.4" font-size="18.5" textLength="17.7" lengthAdjust="spacingAndGlyphs">40</text>
<text x="905.5" y="467.3" font-size="18.5" text-anchor="middle" textLength="8.85" lengthAdjust="spacingAndGlyphs">0</text>
<text x="1001.66" y="467.3" font-size="18.5" text-anchor="middle" textLength="17.7" lengthAdjust="spacingAndGlyphs">10</text>
<text x="1097.82" y="467.3" font-size="18.5" text-anchor="middle" textLength="17.7" lengthAdjust="spacingAndGlyphs">30</text>
<text x="1193.98" y="467.3" font-size="18.5" text-anchor="middle" textLength="17.7" lengthAdjust="spacingAndGlyphs">50</text>
<text x="1290.14" y="467.3" font-size="18.5" text-anchor="middle" textLength="17.7" lengthAdjust="spacingAndGlyphs">70</text>
<text x="1386.3" y="467.3" font-size="18.5" text-anchor="middle" textLength="17.7" lengthAdjust="spacingAndGlyphs">90</text>
<text x="1059.9" y="499.5" font-size="23" textLength="172.4" lengthAdjust="spacingAndGlyphs">Reaction time/min</text>
<text x="800.6" y="368.1" font-size="23.2" textLength="261" lengthAdjust="spacingAndGlyphs" transform="rotate(-90 800.6 368.1)">Protein concentration/mg/L</text>
<text x="1494.4" y="327.8" font-size="23.2" textLength="180.8" lengthAdjust="spacingAndGlyphs" transform="rotate(-90 1494.4 327.8)">Protein removal/%</text>
<text x="867.4" y="41.7" font-size="24" textLength="30.2" lengthAdjust="spacingAndGlyphs">(b)</text>
<rect x="939.3" y="31.9" width="48" height="23.5" fill="#fff"/>
<path clip-path="url(#c26)" d="M937.3,34.3L989.3,-17.7M937.3,46.1L989.3,-5.9M937.3,57.9L989.3,5.9M937.3,69.7L989.3,17.7M937.3,81.5L989.3,29.5M937.3,93.3L989.3,41.3M937.3,105.1L989.3,53.1" stroke="#5e5e5e" stroke-width="1.6" fill="none"/>
<rect x="939.3" y="31.9" width="48" height="23.5" fill="none" stroke="#666666" stroke-width="1.4"/>
<rect x="1095.3" y="31.9" width="48" height="23.5" fill="#fff"/>
<path clip-path="url(#c27)" d="M1095.3,40.34H1143.3M1095.3,48.78H1143.3" stroke="#5e5e5e" stroke-width="1.3" fill="none"/>
<rect x="1095.3" y="31.9" width="48" height="23.5" fill="none" stroke="#666666" stroke-width="1.4"/>
<line x1="938.3" y1="77.4" x2="956" y2="77.4" stroke="#000" stroke-width="1.5"/>
<line x1="969.4" y1="77.4" x2="988" y2="77.4" stroke="#000" stroke-width="1.5"/>
<circle cx="962.7" cy="77.4" r="5.0" fill="#000"/>
<line x1="1095.6" y1="77.4" x2="1113" y2="77.4" stroke="#000" stroke-width="1.5"/>
<line x1="1126.4" y1="77.4" x2="1143.2" y2="77.4" stroke="#000" stroke-width="1.5"/>
<rect x="1115.2" y="73.1" width="9" height="9" fill="#000"/>
<text x="994.3" y="50.6" font-size="18" textLength="75.2" lengthAdjust="spacingAndGlyphs">O<tspan font-size="9.9" dy="6">3</tspan><tspan dy="-6"> (mg/L)</tspan></text>
<text x="1149.3" y="50.6" font-size="18" textLength="213.7" lengthAdjust="spacingAndGlyphs">O<tspan font-size="9.9" dy="6">3</tspan><tspan dy="-6">+MnO</tspan><tspan font-size="9.9" dy="6">2</tspan><tspan dy="-6"> ceramsite (mg/L)</tspan></text>
<text x="994.3" y="84.8" font-size="18" textLength="52.3" lengthAdjust="spacingAndGlyphs">O<tspan font-size="9.9" dy="6">3</tspan><tspan dy="-6"> (%)</tspan></text>
<text x="1149.3" y="84.8" font-size="18" textLength="191.7" lengthAdjust="spacingAndGlyphs">O<tspan font-size="9.9" dy="6">3</tspan><tspan dy="-6">+MnO</tspan><tspan font-size="9.9" dy="6">2</tspan><tspan dy="-6"> ceramsite (%)</tspan></text>
<g clip-path="url(#clipC)">
<rect x="84.2" y="741.3" width="38.3" height="194.7" fill="#fff"/>
<path clip-path="url(#c28)" d="M82.2,743.7L124.5,701.4M82.2,755.5L124.5,713.2M82.2,767.3L124.5,725M82.2,779.1L124.5,736.8M82.2,790.9L124.5,748.6M82.2,802.7L124.5,760.4M82.2,814.5L124.5,772.2M82.2,826.3L124.5,784M82.2,838.1L124.5,795.8M82.2,849.9L124.5,807.6M82.2,861.7L124.5,819.4M82.2,873.5L124.5,831.2M82.2,885.3L124.5,843M82.2,897.1L124.5,854.8M82.2,908.9L124.5,866.6M82.2,920.7L124.5,878.4M82.2,932.5L124.5,890.2M82.2,944.3L124.5,902M82.2,956.1L124.5,913.8M82.2,967.9L124.5,925.6" stroke="#5e5e5e" stroke-width="1.6" fill="none"/>
<rect x="84.2" y="741.3" width="38.3" height="194.7" fill="none" stroke="#666666" stroke-width="1.4"/>
<rect x="122.5" y="741.3" width="38.3" height="194.7" fill="#fff"/>
<path clip-path="url(#c29)" d="M122.5,749.74H160.8M122.5,758.18H160.8M122.5,766.62H160.8M122.5,775.06H160.8M122.5,783.5H160.8M122.5,791.94H160.8M122.5,800.38H160.8M122.5,808.82H160.8M122.5,817.26H160.8M122.5,825.7H160.8M122.5,834.14H160.8M122.5,842.58H160.8M122.5,851.02H160.8M122.5,859.46H160.8M122.5,867.9H160.8M122.5,876.34H160.8M122.5,884.78H160.8M122.5,893.22H160.8M122.5,901.66H160.8M122.5,910.1H160.8M122.5,918.54H160.8M122.5,926.98H160.8M122.5,935.42H160.8" stroke="#5e5e5e" stroke-width="1.3" fill="none"/>
<rect x="122.5" y="741.3" width="38.3" height="194.7" fill="none" stroke="#666666" stroke-width="1.4"/>
<rect x="180.5" y="716.1" width="38.3" height="219.9" fill="#fff"/>
<path clip-path="url(#c30)" d="M178.5,718.5L220.8,676.2M178.5,730.3L220.8,688M178.5,742.1L220.8,699.8M178.5,753.9L220.8,711.6M178.5,765.7L220.8,723.4M178.5,777.5L220.8,735.2M178.5,789.3L220.8,747M178.5,801.1L220.8,758.8M178.5,812.9L220.8,770.6M178.5,824.7L220.8,782.4M178.5,836.5L220.8,794.2M178.5,848.3L220.8,806M178.5,860.1L220.8,817.8M178.5,871.9L220.8,829.6M178.5,883.7L220.8,841.4M178.5,895.5L220.8,853.2M178.5,907.3L220.8,865M178.5,919.1L220.8,876.8M178.5,930.9L220.8,888.6M178.5,942.7L220.8,900.4M178.5,954.5L220.8,912.2M178.5,966.3L220.8,924" stroke="#5e5e5e" stroke-width="1.6" fill="none"/>
<rect x="180.5" y="716.1" width="38.3" height="219.9" fill="none" stroke="#666666" stroke-width="1.4"/>
<rect x="218.8" y="699.7" width="38.3" height="236.3" fill="#fff"/>
<path clip-path="url(#c31)" d="M218.8,708.14H257.1M218.8,716.58H257.1M218.8,725.02H257.1M218.8,733.46H257.1M218.8,741.9H257.1M218.8,750.34H257.1M218.8,758.78H257.1M218.8,767.22H257.1M218.8,775.66H257.1M218.8,784.1H257.1M218.8,792.54H257.1M218.8,800.98H257.1M218.8,809.42H257.1M218.8,817.86H257.1M218.8,826.3H257.1M218.8,834.74H257.1M218.8,843.18H257.1M218.8,851.62H257.1M218.8,860.06H257.1M218.8,868.5H257.1M218.8,876.94H257.1M218.8,885.38H257.1M218.8,893.82H257.1M218.8,902.26H257.1M218.8,910.7H257.1M218.8,919.14H257.1M218.8,927.58H257.1" stroke="#5e5e5e" stroke-width="1.3" fill="none"/>
<rect x="218.8" y="699.7" width="38.3" height="236.3" fill="none" stroke="#666666" stroke-width="1.4"/>
<rect x="276.8" y="671.8" width="38.3" height="264.2" fill="#fff"/>
<path clip-path="url(#c32)" d="M274.8,674.2L317.1,631.9M274.8,686L317.1,643.7M274.8,697.8L317.1,655.5M274.8,709.6L317.1,667.3M274.8,721.4L317.1,679.1M274.8,733.2L317.1,690.9M274.8,745L317.1,702.7M274.8,756.8L317.1,714.5M274.8,768.6L317.1,726.3M274.8,780.4L317.1,738.1M274.8,792.2L317.1,749.9M274.8,804L317.1,761.7M274.8,815.8L317.1,773.5M274.8,827.6L317.1,785.3M274.8,839.4L317.1,797.1M274.8,851.2L317.1,808.9M274.8,863L317.1,820.7M274.8,874.8L317.1,832.5M274.8,886.6L317.1,844.3M274.8,898.4L317.1,856.1M274.8,910.2L317.1,867.9M274.8,922L317.1,879.7M274.8,933.8L317.1,891.5M274.8,945.6L317.1,903.3M274.8,957.4L317.1,915.1M274.8,969.2L317.1,926.9" stroke="#5e5e5e" stroke-width="1.6" fill="none"/>
<rect x="276.8" y="671.8" width="38.3" height="264.2" fill="none" stroke="#666666" stroke-width="1.4"/>
<rect x="315.1" y="677.4" width="38.3" height="258.6" fill="#fff"/>
<path clip-path="url(#c33)" d="M315.1,685.84H353.4M315.1,694.28H353.4M315.1,702.72H353.4M315.1,711.16H353.4M315.1,719.6H353.4M315.1,728.04H353.4M315.1,736.48H353.4M315.1,744.92H353.4M315.1,753.36H353.4M315.1,761.8H353.4M315.1,770.24H353.4M315.1,778.68H353.4M315.1,787.12H353.4M315.1,795.56H353.4M315.1,804H353.4M315.1,812.44H353.4M315.1,820.88H353.4M315.1,829.32H353.4M315.1,837.76H353.4M315.1,846.2H353.4M315.1,854.64H353.4M315.1,863.08H353.4M315.1,871.52H353.4M315.1,879.96H353.4M315.1,888.4H353.4M315.1,896.84H353.4M315.1,905.28H353.4M315.1,913.72H353.4M315.1,922.16H353.4M315.1,930.6H353.4" stroke="#5e5e5e" stroke-width="1.3" fill="none"/>
<rect x="315.1" y="677.4" width="38.3" height="258.6" fill="none" stroke="#666666" stroke-width="1.4"/>
<rect x="373.1" y="667.8" width="38.3" height="268.2" fill="#fff"/>
<path clip-path="url(#c34)" d="M371.1,670.2L413.4,627.9M371.1,682L413.4,639.7M371.1,693.8L413.4,651.5M371.1,705.6L413.4,663.3M371.1,717.4L413.4,675.1M371.1,729.2L413.4,686.9M371.1,741L413.4,698.7M371.1,752.8L413.4,710.5M371.1,764.6L413.4,722.3M371.1,776.4L413.4,734.1M371.1,788.2L413.4,745.9M371.1,800L413.4,757.7M371.1,811.8L413.4,769.5M371.1,823.6L413.4,781.3M371.1,835.4L413.4,793.1M371.1,847.2L413.4,804.9M371.1,859L413.4,816.7M371.1,870.8L413.4,828.5M371.1,882.6L413.4,840.3M371.1,894.4L413.4,852.1M371.1,906.2L413.4,863.9M371.1,918L413.4,875.7M371.1,929.8L413.4,887.5M371.1,941.6L413.4,899.3M371.1,953.4L413.4,911.1M371.1,965.2L413.4,922.9" stroke="#5e5e5e" stroke-width="1.6" fill="none"/>
<rect x="373.1" y="667.8" width="38.3" height="268.2" fill="none" stroke="#666666" stroke-width="1.4"/>
<rect x="411.4" y="633" width="38.3" height="303" fill="#fff"/>
<path clip-path="url(#c35)" d="M411.4,641.44H449.7M411.4,649.88H449.7M411.4,658.32H449.7M411.4,666.76H449.7M411.4,675.2H449.7M411.4,683.64H449.7M411.4,692.08H449.7M411.4,700.52H449.7M411.4,708.96H449.7M411.4,717.4H449.7M411.4,725.84H449.7M411.4,734.28H449.7M411.4,742.72H449.7M411.4,751.16H449.7M411.4,759.6H449.7M411.4,768.04H449.7M411.4,776.48H449.7M411.4,784.92H449.7M411.4,793.36H449.7M411.4,801.8H449.7M411.4,810.24H449.7M411.4,818.68H449.7M411.4,827.12H449.7M411.4,835.56H449.7M411.4,844H449.7M411.4,852.44H449.7M411.4,860.88H449.7M411.4,869.32H449.7M411.4,877.76H449.7M411.4,886.2H449.7M411.4,894.64H449.7M411.4,903.08H449.7M411.4,911.52H449.7M411.4,919.96H449.7M411.4,928.4H449.7" stroke="#5e5e5e" stroke-width="1.3" fill="none"/>
<rect x="411.4" y="633" width="38.3" height="303" fill="none" stroke="#666666" stroke-width="1.4"/>
<rect x="469.4" y="646" width="38.3" height="290" fill="#fff"/>
<path clip-path="url(#c36)" d="M467.4,648.4L509.7,606.1M467.4,660.2L509.7,617.9M467.4,672L509.7,629.7M467.4,683.8L509.7,641.5M467.4,695.6L509.7,653.3M467.4,707.4L509.7,665.1M467.4,719.2L509.7,676.9M467.4,731L509.7,688.7M467.4,742.8L509.7,700.5M467.4,754.6L509.7,712.3M467.4,766.4L509.7,724.1M467.4,778.2L509.7,735.9M467.4,790L509.7,747.7M467.4,801.8L509.7,759.5M467.4,813.6L509.7,771.3M467.4,825.4L509.7,783.1M467.4,837.2L509.7,794.9M467.4,849L509.7,806.7M467.4,860.8L509.7,818.5M467.4,872.6L509.7,830.3M467.4,884.4L509.7,842.1M467.4,896.2L509.7,853.9M467.4,908L509.7,865.7M467.4,919.8L509.7,877.5M467.4,931.6L509.7,889.3M467.4,943.4L509.7,901.1M467.4,955.2L509.7,912.9M467.4,967L509.7,924.7" stroke="#5e5e5e" stroke-width="1.6" fill="none"/>
<rect x="469.4" y="646" width="38.3" height="290" fill="none" stroke="#666666" stroke-width="1.4"/>
<rect x="507.7" y="647.8" width="38.3" height="288.2" fill="#fff"/>
<path clip-path="url(#c37)" d="M507.7,656.24H546M507.7,664.68H546M507.7,673.12H546M507.7,681.56H546M507.7,690H546M507.7,698.44H546M507.7,706.88H546M507.7,715.32H546M507.7,723.76H546M507.7,732.2H546M507.7,740.64H546M507.7,749.08H546M507.7,757.52H546M507.7,765.96H546M507.7,774.4H546M507.7,782.84H546M507.7,791.28H546M507.7,799.72H546M507.7,808.16H546M507.7,816.6H546M507.7,825.04H546M507.7,833.48H546M507.7,841.92H546M507.7,850.36H546M507.7,858.8H546M507.7,867.24H546M507.7,875.68H546M507.7,884.12H546M507.7,892.56H546M507.7,901H546M507.7,909.44H546M507.7,917.88H546M507.7,926.32H546M507.7,934.76H546" stroke="#5e5e5e" stroke-width="1.3" fill="none"/>
<rect x="507.7" y="647.8" width="38.3" height="288.2" fill="none" stroke="#666666" stroke-width="1.4"/>
<rect x="565.7" y="637.7" width="38.3" height="298.3" fill="#fff"/>
<path clip-path="url(#c38)" d="M563.7,640.1L606,597.8M563.7,651.9L606,609.6M563.7,663.7L606,621.4M563.7,675.5L606,633.2M563.7,687.3L606,645M563.7,699.1L606,656.8M563.7,710.9L606,668.6M563.7,722.7L606,680.4M563.7,734.5L606,692.2M563.7,746.3L606,704M563.7,758.1L606,715.8M563.7,769.9L606,727.6M563.7,781.7L606,739.4M563.7,793.5L606,751.2M563.7,805.3L606,763M563.7,817.1L606,774.8M563.7,828.9L606,786.6M563.7,840.7L606,798.4M563.7,852.5L606,810.2M563.7,864.3L606,822M563.7,876.1L606,833.8M563.7,887.9L606,845.6M563.7,899.7L606,857.4M563.7,911.5L606,869.2M563.7,923.3L606,881M563.7,935.1L606,892.8M563.7,946.9L606,904.6M563.7,958.7L606,916.4M563.7,970.5L606,928.2" stroke="#5e5e5e" stroke-width="1.6" fill="none"/>
<rect x="565.7" y="637.7" width="38.3" height="298.3" fill="none" stroke="#666666" stroke-width="1.4"/>
<rect x="604" y="692.3" width="38.3" height="243.7" fill="#fff"/>
<path clip-path="url(#c39)" d="M604,700.74H642.3M604,709.18H642.3M604,717.62H642.3M604,726.06H642.3M604,734.5H642.3M604,742.94H642.3M604,751.38H642.3M604,759.82H642.3M604,768.26H642.3M604,776.7H642.3M604,785.14H642.3M604,793.58H642.3M604,802.02H642.3M604,810.46H642.3M604,818.9H642.3M604,827.34H642.3M604,835.78H642.3M604,844.22H642.3M604,852.66H642.3M604,861.1H642.3M604,869.54H642.3M604,877.98H642.3M604,886.42H642.3M604,894.86H642.3M604,903.3H642.3M604,911.74H642.3M604,920.18H642.3M604,928.62H642.3" stroke="#5e5e5e" stroke-width="1.3" fill="none"/>
<rect x="604" y="692.3" width="38.3" height="243.7" fill="none" stroke="#666666" stroke-width="1.4"/>
<line x1="103.35" y1="732.45" x2="103.35" y2="750.15" stroke="#666666" stroke-width="1.4"/>
<line x1="98.95" y1="732.45" x2="107.75" y2="732.45" stroke="#666666" stroke-width="1.4"/>
<line x1="98.95" y1="750.15" x2="107.75" y2="750.15" stroke="#666666" stroke-width="1.4"/>
<line x1="141.65" y1="732.45" x2="141.65" y2="750.15" stroke="#666666" stroke-width="1.4"/>
<line x1="137.25" y1="732.45" x2="146.05" y2="732.45" stroke="#666666" stroke-width="1.4"/>
<line x1="137.25" y1="750.15" x2="146.05" y2="750.15" stroke="#666666" stroke-width="1.4"/>
<line x1="199.65" y1="706.25" x2="199.65" y2="725.95" stroke="#666666" stroke-width="1.4"/>
<line x1="195.25" y1="706.25" x2="204.05" y2="706.25" stroke="#666666" stroke-width="1.4"/>
<line x1="195.25" y1="725.95" x2="204.05" y2="725.95" stroke="#666666" stroke-width="1.4"/>
<line x1="237.95" y1="694.3" x2="237.95" y2="705.1" stroke="#666666" stroke-width="1.4"/>
<line x1="233.55" y1="694.3" x2="242.35" y2="694.3" stroke="#666666" stroke-width="1.4"/>
<line x1="233.55" y1="705.1" x2="242.35" y2="705.1" stroke="#666666" stroke-width="1.4"/>
<line x1="295.95" y1="658.2" x2="295.95" y2="685.4" stroke="#666666" stroke-width="1.4"/>
<line x1="291.55" y1="658.2" x2="300.35" y2="658.2" stroke="#666666" stroke-width="1.4"/>
<line x1="291.55" y1="685.4" x2="300.35" y2="685.4" stroke="#666666" stroke-width="1.4"/>
<line x1="334.25" y1="670.85" x2="334.25" y2="683.95" stroke="#666666" stroke-width="1.4"/>
<line x1="329.85" y1="670.85" x2="338.65" y2="670.85" stroke="#666666" stroke-width="1.4"/>
<line x1="329.85" y1="683.95" x2="338.65" y2="683.95" stroke="#666666" stroke-width="1.4"/>
<line x1="392.25" y1="661.7" x2="392.25" y2="673.9" stroke="#666666" stroke-width="1.4"/>
<line x1="387.85" y1="661.7" x2="396.65" y2="661.7" stroke="#666666" stroke-width="1.4"/>
<line x1="387.85" y1="673.9" x2="396.65" y2="673.9" stroke="#666666" stroke-width="1.4"/>
<line x1="430.55" y1="618.35" x2="430.55" y2="647.65" stroke="#666666" stroke-width="1.4"/>
<line x1="426.15" y1="618.35" x2="434.95" y2="618.35" stroke="#666666" stroke-width="1.4"/>
<line x1="426.15" y1="647.65" x2="434.95" y2="647.65" stroke="#666666" stroke-width="1.4"/>
<line x1="488.55" y1="633.1" x2="488.55" y2="658.9" stroke="#666666" stroke-width="1.4"/>
<line x1="484.15" y1="633.1" x2="492.95" y2="633.1" stroke="#666666" stroke-width="1.4"/>
<line x1="484.15" y1="658.9" x2="492.95" y2="658.9" stroke="#666666" stroke-width="1.4"/>
<line x1="526.85" y1="627.45" x2="526.85" y2="668.15" stroke="#666666" stroke-width="1.4"/>
<line x1="522.45" y1="627.45" x2="531.25" y2="627.45" stroke="#666666" stroke-width="1.4"/>
<line x1="522.45" y1="668.15" x2="531.25" y2="668.15" stroke="#666666" stroke-width="1.4"/>
<line x1="584.85" y1="624.55" x2="584.85" y2="650.85" stroke="#666666" stroke-width="1.4"/>
<line x1="580.45" y1="624.55" x2="589.25" y2="624.55" stroke="#666666" stroke-width="1.4"/>
<line x1="580.45" y1="650.85" x2="589.25" y2="650.85" stroke="#666666" stroke-width="1.4"/>
<line x1="623.15" y1="680.05" x2="623.15" y2="704.55" stroke="#666666" stroke-width="1.4"/>
<line x1="618.75" y1="680.05" x2="627.55" y2="680.05" stroke="#666666" stroke-width="1.4"/>
<line x1="618.75" y1="704.55" x2="627.55" y2="704.55" stroke="#666666" stroke-width="1.4"/>
<path d="M127.8,932.78 L213.5,880.62 M222.43,872.37 L311.47,748.93 M320.94,741.83 L405.56,711.87 M416.98,707.09 L502.12,665.71 M513.72,661.5 L597.98,640.5" fill="none" stroke="#000" stroke-width="1.5"/>
<path d="M125.74,930.71 L215.56,784.29 M222.39,773.95 L311.51,648.65 M319.33,639.07 L407.17,545.13 M417.14,542.95 L501.96,577.65 M510.76,585.39 L600.94,744.61" fill="none" stroke="#000" stroke-width="1.5"/>
<circle cx="122.5" cy="936" r="5.0" fill="#000"/>
<line x1="218.8" y1="872.7" x2="218.8" y2="882.1" stroke="#000" stroke-width="1.6"/>
<line x1="214.2" y1="872.7" x2="223.4" y2="872.7" stroke="#000" stroke-width="1.6"/>
<line x1="214.2" y1="882.1" x2="223.4" y2="882.1" stroke="#000" stroke-width="1.6"/>
<circle cx="218.8" cy="877.4" r="5.0" fill="#000"/>
<line x1="315.1" y1="732.9" x2="315.1" y2="754.9" stroke="#000" stroke-width="1.6"/>
<line x1="310.5" y1="732.9" x2="319.7" y2="732.9" stroke="#000" stroke-width="1.6"/>
<line x1="310.5" y1="754.9" x2="319.7" y2="754.9" stroke="#000" stroke-width="1.6"/>
<circle cx="315.1" cy="743.9" r="5.0" fill="#000"/>
<line x1="411.4" y1="703.65" x2="411.4" y2="715.95" stroke="#000" stroke-width="1.6"/>
<line x1="406.8" y1="703.65" x2="416" y2="703.65" stroke="#000" stroke-width="1.6"/>
<line x1="406.8" y1="715.95" x2="416" y2="715.95" stroke="#000" stroke-width="1.6"/>
<circle cx="411.4" cy="709.8" r="5.0" fill="#000"/>
<line x1="507.7" y1="658.3" x2="507.7" y2="667.7" stroke="#000" stroke-width="1.6"/>
<line x1="503.1" y1="658.3" x2="512.3" y2="658.3" stroke="#000" stroke-width="1.6"/>
<line x1="503.1" y1="667.7" x2="512.3" y2="667.7" stroke="#000" stroke-width="1.6"/>
<circle cx="507.7" cy="663" r="5.0" fill="#000"/>
<line x1="604" y1="633.9" x2="604" y2="644.1" stroke="#000" stroke-width="1.6"/>
<line x1="599.4" y1="633.9" x2="608.6" y2="633.9" stroke="#000" stroke-width="1.6"/>
<line x1="599.4" y1="644.1" x2="608.6" y2="644.1" stroke="#000" stroke-width="1.6"/>
<circle cx="604" cy="639" r="5.0" fill="#000"/>
<rect x="118" y="931.5" width="9" height="9" fill="#000"/>
<line x1="218.8" y1="770.8" x2="218.8" y2="787.2" stroke="#000" stroke-width="1.6"/>
<line x1="214.2" y1="770.8" x2="223.4" y2="770.8" stroke="#000" stroke-width="1.6"/>
<line x1="214.2" y1="787.2" x2="223.4" y2="787.2" stroke="#000" stroke-width="1.6"/>
<rect x="214.3" y="774.5" width="9" height="9" fill="#000"/>
<line x1="315.1" y1="635.9" x2="315.1" y2="651.3" stroke="#000" stroke-width="1.6"/>
<line x1="310.5" y1="635.9" x2="319.7" y2="635.9" stroke="#000" stroke-width="1.6"/>
<line x1="310.5" y1="651.3" x2="319.7" y2="651.3" stroke="#000" stroke-width="1.6"/>
<rect x="310.6" y="639.1" width="9" height="9" fill="#000"/>
<line x1="411.4" y1="531.65" x2="411.4" y2="549.55" stroke="#000" stroke-width="1.6"/>
<line x1="406.8" y1="531.65" x2="416" y2="531.65" stroke="#000" stroke-width="1.6"/>
<line x1="406.8" y1="549.55" x2="416" y2="549.55" stroke="#000" stroke-width="1.6"/>
<rect x="406.9" y="536.1" width="9" height="9" fill="#000"/>
<line x1="507.7" y1="561.9" x2="507.7" y2="598.1" stroke="#000" stroke-width="1.6"/>
<line x1="503.1" y1="561.9" x2="512.3" y2="561.9" stroke="#000" stroke-width="1.6"/>
<line x1="503.1" y1="598.1" x2="512.3" y2="598.1" stroke="#000" stroke-width="1.6"/>
<rect x="503.2" y="575.5" width="9" height="9" fill="#000"/>
<line x1="604" y1="732.1" x2="604" y2="767.9" stroke="#000" stroke-width="1.6"/>
<line x1="599.4" y1="732.1" x2="608.6" y2="732.1" stroke="#000" stroke-width="1.6"/>
<line x1="599.4" y1="767.9" x2="608.6" y2="767.9" stroke="#000" stroke-width="1.6"/>
<rect x="599.5" y="745.5" width="9" height="9" fill="#000"/>
</g>
<rect x="74.7" y="507" width="577.3" height="429" fill="none" stroke="#000" stroke-width="1.6"/>
<line x1="74.7" y1="936" x2="66.4" y2="936" stroke="#000" stroke-width="1.4"/>
<line x1="74.7" y1="893.1" x2="70.2" y2="893.1" stroke="#000" stroke-width="1.4"/>
<line x1="74.7" y1="850.2" x2="66.4" y2="850.2" stroke="#000" stroke-width="1.4"/>
<line x1="74.7" y1="807.3" x2="70.2" y2="807.3" stroke="#000" stroke-width="1.4"/>
<line x1="74.7" y1="764.4" x2="66.4" y2="764.4" stroke="#000" stroke-width="1.4"/>
<line x1="74.7" y1="721.5" x2="70.2" y2="721.5" stroke="#000" stroke-width="1.4"/>
<line x1="74.7" y1="678.6" x2="66.4" y2="678.6" stroke="#000" stroke-width="1.4"/>
<line x1="74.7" y1="635.7" x2="70.2" y2="635.7" stroke="#000" stroke-width="1.4"/>
<line x1="74.7" y1="592.8" x2="66.4" y2="592.8" stroke="#000" stroke-width="1.4"/>
<line x1="74.7" y1="549.9" x2="70.2" y2="549.9" stroke="#000" stroke-width="1.4"/>
<line x1="74.7" y1="507" x2="66.4" y2="507" stroke="#000" stroke-width="1.4"/>
<line x1="652" y1="905.36" x2="647.5" y2="905.36" stroke="#000" stroke-width="1.4"/>
<line x1="652" y1="874.71" x2="643.7" y2="874.71" stroke="#000" stroke-width="1.4"/>
<line x1="652" y1="844.07" x2="647.5" y2="844.07" stroke="#000" stroke-width="1.4"/>
<line x1="652" y1="813.43" x2="643.7" y2="813.43" stroke="#000" stroke-width="1.4"/>
<line x1="652" y1="782.79" x2="647.5" y2="782.79" stroke="#000" stroke-width="1.4"/>
<line x1="652" y1="752.14" x2="643.7" y2="752.14" stroke="#000" stroke-width="1.4"/>
<line x1="652" y1="721.5" x2="647.5" y2="721.5" stroke="#000" stroke-width="1.4"/>
<line x1="652" y1="690.86" x2="643.7" y2="690.86" stroke="#000" stroke-width="1.4"/>
<line x1="652" y1="660.21" x2="647.5" y2="660.21" stroke="#000" stroke-width="1.4"/>
<line x1="652" y1="629.57" x2="643.7" y2="629.57" stroke="#000" stroke-width="1.4"/>
<line x1="652" y1="598.93" x2="647.5" y2="598.93" stroke="#000" stroke-width="1.4"/>
<line x1="652" y1="568.29" x2="643.7" y2="568.29" stroke="#000" stroke-width="1.4"/>
<line x1="652" y1="537.64" x2="647.5" y2="537.64" stroke="#000" stroke-width="1.4"/>
<line x1="122.5" y1="936" x2="122.5" y2="944.5" stroke="#000" stroke-width="1.4"/>
<line x1="218.8" y1="936" x2="218.8" y2="944.5" stroke="#000" stroke-width="1.4"/>
<line x1="315.1" y1="936" x2="315.1" y2="944.5" stroke="#000" stroke-width="1.4"/>
<line x1="411.4" y1="936" x2="411.4" y2="944.5" stroke="#000" stroke-width="1.4"/>
<line x1="507.7" y1="936" x2="507.7" y2="944.5" stroke="#000" stroke-width="1.4"/>
<line x1="604" y1="936" x2="604" y2="944.5" stroke="#000" stroke-width="1.4"/>
<line x1="74.35" y1="936" x2="74.35" y2="940.6" stroke="#000" stroke-width="1.4"/>
<line x1="170.65" y1="936" x2="170.65" y2="940.6" stroke="#000" stroke-width="1.4"/>
<line x1="266.95" y1="936" x2="266.95" y2="940.6" stroke="#000" stroke-width="1.4"/>
<line x1="363.25" y1="936" x2="363.25" y2="940.6" stroke="#000" stroke-width="1.4"/>
<line x1="459.55" y1="936" x2="459.55" y2="940.6" stroke="#000" stroke-width="1.4"/>
<line x1="555.85" y1="936" x2="555.85" y2="940.6" stroke="#000" stroke-width="1.4"/>
<line x1="652.15" y1="936" x2="652.15" y2="940.6" stroke="#000" stroke-width="1.4"/>
<text x="60.5" y="941.4" font-size="18.5" text-anchor="end" textLength="8.85" lengthAdjust="spacingAndGlyphs">0</text>
<text x="60.5" y="855.6" font-size="18.5" text-anchor="end" textLength="17.7" lengthAdjust="spacingAndGlyphs">10</text>
<text x="60.5" y="769.8" font-size="18.5" text-anchor="end" textLength="17.7" lengthAdjust="spacingAndGlyphs">20</text>
<text x="60.5" y="684" font-size="18.5" text-anchor="end" textLength="17.7" lengthAdjust="spacingAndGlyphs">30</text>
<text x="60.5" y="598.2" font-size="18.5" text-anchor="end" textLength="17.7" lengthAdjust="spacingAndGlyphs">40</text>
<text x="60.5" y="512.4" font-size="18.5" text-anchor="end" textLength="17.7" lengthAdjust="spacingAndGlyphs">50</text>
<text x="660.8" y="941.4" font-size="18.5" textLength="8.85" lengthAdjust="spacingAndGlyphs">0</text>
<rect x="661.6" y="876.31" width="4.1" height="1.6" fill="#000"/>
<text x="667.6" y="880.11" font-size="18.5" textLength="17.7" lengthAdjust="spacingAndGlyphs">10</text>
<rect x="661.6" y="815.03" width="4.1" height="1.6" fill="#000"/>
<text x="667.6" y="818.83" font-size="18.5" textLength="17.7" lengthAdjust="spacingAndGlyphs">20</text>
<rect x="661.6" y="753.74" width="4.1" height="1.6" fill="#000"/>
<text x="667.6" y="757.54" font-size="18.5" textLength="17.7" lengthAdjust="spacingAndGlyphs">30</text>
<rect x="661.6" y="692.46" width="4.1" height="1.6" fill="#000"/>
<text x="667.6" y="696.26" font-size="18.5" textLength="17.7" lengthAdjust="spacingAndGlyphs">40</text>
<rect x="661.6" y="631.17" width="4.1" height="1.6" fill="#000"/>
<text x="667.6" y="634.97" font-size="18.5" textLength="17.7" lengthAdjust="spacingAndGlyphs">50</text>
<rect x="661.6" y="569.89" width="4.1" height="1.6" fill="#000"/>
<text x="667.6" y="573.69" font-size="18.5" textLength="17.7" lengthAdjust="spacingAndGlyphs">60</text>
<rect x="661.6" y="508.6" width="4.1" height="1.6" fill="#000"/>
<text x="667.6" y="512.4" font-size="18.5" textLength="17.7" lengthAdjust="spacingAndGlyphs">70</text>
<text x="122.5" y="961.6" font-size="18.5" text-anchor="middle" textLength="8.85" lengthAdjust="spacingAndGlyphs">0</text>
<text x="218.8" y="961.6" font-size="18.5" text-anchor="middle" textLength="17.7" lengthAdjust="spacingAndGlyphs">10</text>
<text x="315.1" y="961.6" font-size="18.5" text-anchor="middle" textLength="17.7" lengthAdjust="spacingAndGlyphs">30</text>
<text x="411.4" y="961.6" font-size="18.5" text-anchor="middle" textLength="17.7" lengthAdjust="spacingAndGlyphs">50</text>
<text x="507.7" y="961.6" font-size="18.5" text-anchor="middle" textLength="17.7" lengthAdjust="spacingAndGlyphs">70</text>
<text x="604" y="961.6" font-size="18.5" text-anchor="middle" textLength="17.7" lengthAdjust="spacingAndGlyphs">90</text>
<text x="277.1" y="993.4" font-size="23" textLength="172.4" lengthAdjust="spacingAndGlyphs">Reaction time/min</text>
<text x="27.4" y="901.8" font-size="23.2" textLength="332.6" lengthAdjust="spacingAndGlyphs" transform="rotate(-90 27.4 901.8)">Polysaccharide concentration/mg/L</text>
<text x="714.2" y="864.6" font-size="23.2" textLength="257.8" lengthAdjust="spacingAndGlyphs" transform="rotate(-90 714.2 864.6)">Polysaccharide removal /%</text>
<text x="605.9" y="537" font-size="24" textLength="28.6" lengthAdjust="spacingAndGlyphs">(c)</text>
<rect x="82" y="512.6" width="48.6" height="23" fill="#fff"/>
<path clip-path="url(#c40)" d="M80,515L132.6,462.4M80,526.8L132.6,474.2M80,538.6L132.6,486M80,550.4L132.6,497.8M80,562.2L132.6,509.6M80,574L132.6,521.4M80,585.8L132.6,533.2" stroke="#5e5e5e" stroke-width="1.6" fill="none"/>
<rect x="82" y="512.6" width="48.6" height="23" fill="none" stroke="#666666" stroke-width="1.4"/>
<rect x="82" y="544.4" width="48.6" height="23" fill="#fff"/>
<path clip-path="url(#c41)" d="M82,552.84H130.6M82,561.28H130.6" stroke="#5e5e5e" stroke-width="1.3" fill="none"/>
<rect x="82" y="544.4" width="48.6" height="23" fill="none" stroke="#666666" stroke-width="1.4"/>
<line x1="82" y1="590" x2="99.3" y2="590" stroke="#000" stroke-width="1.5"/>
<line x1="112.7" y1="590" x2="130.6" y2="590" stroke="#000" stroke-width="1.5"/>
<circle cx="106" cy="590" r="5.0" fill="#000"/>
<line x1="82" y1="622.6" x2="99.3" y2="622.6" stroke="#000" stroke-width="1.5"/>
<line x1="112.7" y1="622.6" x2="130.6" y2="622.6" stroke="#000" stroke-width="1.5"/>
<rect x="101.5" y="618.1" width="9" height="9" fill="#000"/>
<text x="137.4" y="531.5" font-size="18.5" textLength="75.6" lengthAdjust="spacingAndGlyphs">O<tspan font-size="10.18" dy="6">3</tspan><tspan dy="-6"> (mg/L)</tspan></text>
<text x="137.4" y="563.5" font-size="18.5" textLength="213.2" lengthAdjust="spacingAndGlyphs">O<tspan font-size="10.18" dy="6">3</tspan><tspan dy="-6">+MnO</tspan><tspan font-size="10.18" dy="6">2</tspan><tspan dy="-6"> ceramsite (mg/L)</tspan></text>
<text x="137.4" y="597.5" font-size="18.5" textLength="51.5" lengthAdjust="spacingAndGlyphs">O<tspan font-size="10.18" dy="6">3</tspan><tspan dy="-6"> (%)</tspan></text>
<text x="137.4" y="629" font-size="18.5" textLength="189.2" lengthAdjust="spacingAndGlyphs">O<tspan font-size="10.18" dy="6">3</tspan><tspan dy="-6">+MnO</tspan><tspan font-size="10.18" dy="6">2</tspan><tspan dy="-6"> ceramsite (%)</tspan></text>
<g clip-path="url(#clipD)">
<rect x="904.8" y="578.67" width="106" height="198.13" fill="#fff"/>
<rect x="904.8" y="578.67" width="106" height="198.13" fill="none" stroke="#666666" stroke-width="1.4"/>
<rect x="904.8" y="776.8" width="106" height="159.2" fill="#fff"/>
<path clip-path="url(#c42)" d="M902.8,780L1012.8,670M902.8,787.71L1012.8,677.71M902.8,795.42L1012.8,685.42M902.8,803.13L1012.8,693.13M902.8,810.84L1012.8,700.84M902.8,818.55L1012.8,708.55M902.8,826.26L1012.8,716.26M902.8,833.97L1012.8,723.97M902.8,841.68L1012.8,731.68M902.8,849.39L1012.8,739.39M902.8,857.1L1012.8,747.1M902.8,864.81L1012.8,754.81M902.8,872.52L1012.8,762.52M902.8,880.23L1012.8,770.23M902.8,887.94L1012.8,777.94M902.8,895.65L1012.8,785.65M902.8,903.36L1012.8,793.36M902.8,911.07L1012.8,801.07M902.8,918.78L1012.8,808.78M902.8,926.49L1012.8,816.49M902.8,934.2L1012.8,824.2M902.8,941.91L1012.8,831.91M902.8,949.62L1012.8,839.62M902.8,957.33L1012.8,847.33M902.8,965.04L1012.8,855.04M902.8,972.75L1012.8,862.75M902.8,980.46L1012.8,870.46M902.8,988.17L1012.8,878.17M902.8,995.88L1012.8,885.88M902.8,1003.59L1012.8,893.59M902.8,1011.3L1012.8,901.3M902.8,1019.01L1012.8,909.01M902.8,1026.72L1012.8,916.72M902.8,1034.43L1012.8,924.43M902.8,1042.14L1012.8,932.14M902.8,929.2L1012.8,1039.2M902.8,921.49L1012.8,1031.49M902.8,913.78L1012.8,1023.78M902.8,906.07L1012.8,1016.07M902.8,898.36L1012.8,1008.36M902.8,890.65L1012.8,1000.65M902.8,882.94L1012.8,992.94M902.8,875.23L1012.8,985.23M902.8,867.52L1012.8,977.52M902.8,859.81L1012.8,969.81M902.8,852.1L1012.8,962.1M902.8,844.39L1012.8,954.39M902.8,836.68L1012.8,946.68M902.8,828.97L1012.8,938.97M902.8,821.26L1012.8,931.26M902.8,813.55L1012.8,923.55M902.8,805.84L1012.8,915.84M902.8,798.13L1012.8,908.13M902.8,790.42L1012.8,900.42M902.8,782.71L1012.8,892.71M902.8,775L1012.8,885M902.8,767.29L1012.8,877.29M902.8,759.58L1012.8,869.58M902.8,751.87L1012.8,861.87M902.8,744.16L1012.8,854.16M902.8,736.45L1012.8,846.45M902.8,728.74L1012.8,838.74M902.8,721.03L1012.8,831.03M902.8,713.32L1012.8,823.32M902.8,705.61L1012.8,815.61M902.8,697.9L1012.8,807.9M902.8,690.19L1012.8,800.19M902.8,682.48L1012.8,792.48M902.8,674.77L1012.8,784.77" stroke="#5c5c5c" stroke-width="1.4" fill="none"/>
<rect x="904.8" y="776.8" width="106" height="159.2" fill="none" stroke="#666666" stroke-width="1.4"/>
<rect x="1097" y="578.67" width="106" height="110.53" fill="#fff"/>
<rect x="1097" y="578.67" width="106" height="110.53" fill="none" stroke="#666666" stroke-width="1.4"/>
<rect x="1097" y="689.2" width="106" height="246.8" fill="#fff"/>
<path clip-path="url(#c43)" d="M1095,692.4L1205,582.4M1095,700.11L1205,590.11M1095,707.82L1205,597.82M1095,715.53L1205,605.53M1095,723.24L1205,613.24M1095,730.95L1205,620.95M1095,738.66L1205,628.66M1095,746.37L1205,636.37M1095,754.08L1205,644.08M1095,761.79L1205,651.79M1095,769.5L1205,659.5M1095,777.21L1205,667.21M1095,784.92L1205,674.92M1095,792.63L1205,682.63M1095,800.34L1205,690.34M1095,808.05L1205,698.05M1095,815.76L1205,705.76M1095,823.47L1205,713.47M1095,831.18L1205,721.18M1095,838.89L1205,728.89M1095,846.6L1205,736.6M1095,854.31L1205,744.31M1095,862.02L1205,752.02M1095,869.73L1205,759.73M1095,877.44L1205,767.44M1095,885.15L1205,775.15M1095,892.86L1205,782.86M1095,900.57L1205,790.57M1095,908.28L1205,798.28M1095,915.99L1205,805.99M1095,923.7L1205,813.7M1095,931.41L1205,821.41M1095,939.12L1205,829.12M1095,946.83L1205,836.83M1095,954.54L1205,844.54M1095,962.25L1205,852.25M1095,969.96L1205,859.96M1095,977.67L1205,867.67M1095,985.38L1205,875.38M1095,993.09L1205,883.09M1095,1000.8L1205,890.8M1095,1008.51L1205,898.51M1095,1016.22L1205,906.22M1095,1023.93L1205,913.93M1095,1031.64L1205,921.64M1095,1039.35L1205,929.35M1095,926.41L1205,1036.41M1095,918.7L1205,1028.7M1095,910.99L1205,1020.99M1095,903.28L1205,1013.28M1095,895.57L1205,1005.57M1095,887.86L1205,997.86M1095,880.15L1205,990.15M1095,872.44L1205,982.44M1095,864.73L1205,974.73M1095,857.02L1205,967.02M1095,849.31L1205,959.31M1095,841.6L1205,951.6M1095,833.89L1205,943.89M1095,826.18L1205,936.18M1095,818.47L1205,928.47M1095,810.76L1205,920.76M1095,803.05L1205,913.05M1095,795.34L1205,905.34M1095,787.63L1205,897.63M1095,779.92L1205,889.92M1095,772.21L1205,882.21M1095,764.5L1205,874.5M1095,756.79L1205,866.79M1095,749.08L1205,859.08M1095,741.37L1205,851.37M1095,733.66L1205,843.66M1095,725.95L1205,835.95M1095,718.24L1205,828.24M1095,710.53L1205,820.53M1095,702.82L1205,812.82M1095,695.11L1205,805.11M1095,687.4L1205,797.4M1095,679.69L1205,789.69M1095,671.98L1205,781.98M1095,664.27L1205,774.27M1095,656.56L1205,766.56M1095,648.85L1205,758.85M1095,641.14L1205,751.14M1095,633.43L1205,743.43M1095,625.72L1205,735.72M1095,618.01L1205,728.01M1095,610.3L1205,720.3M1095,602.59L1205,712.59M1095,594.88L1205,704.88M1095,587.17L1205,697.17" stroke="#5c5c5c" stroke-width="1.4" fill="none"/>
<rect x="1097" y="689.2" width="106" height="246.8" fill="none" stroke="#666666" stroke-width="1.4"/>
<rect x="1289.2" y="578.67" width="106" height="91.33" fill="#fff"/>
<rect x="1289.2" y="578.67" width="106" height="91.33" fill="none" stroke="#666666" stroke-width="1.4"/>
<rect x="1289.2" y="670" width="106" height="266" fill="#fff"/>
<path clip-path="url(#c44)" d="M1287.2,673.2L1397.2,563.2M1287.2,680.91L1397.2,570.91M1287.2,688.62L1397.2,578.62M1287.2,696.33L1397.2,586.33M1287.2,704.04L1397.2,594.04M1287.2,711.75L1397.2,601.75M1287.2,719.46L1397.2,609.46M1287.2,727.17L1397.2,617.17M1287.2,734.88L1397.2,624.88M1287.2,742.59L1397.2,632.59M1287.2,750.3L1397.2,640.3M1287.2,758.01L1397.2,648.01M1287.2,765.72L1397.2,655.72M1287.2,773.43L1397.2,663.43M1287.2,781.14L1397.2,671.14M1287.2,788.85L1397.2,678.85M1287.2,796.56L1397.2,686.56M1287.2,804.27L1397.2,694.27M1287.2,811.98L1397.2,701.98M1287.2,819.69L1397.2,709.69M1287.2,827.4L1397.2,717.4M1287.2,835.11L1397.2,725.11M1287.2,842.82L1397.2,732.82M1287.2,850.53L1397.2,740.53M1287.2,858.24L1397.2,748.24M1287.2,865.95L1397.2,755.95M1287.2,873.66L1397.2,763.66M1287.2,881.37L1397.2,771.37M1287.2,889.08L1397.2,779.08M1287.2,896.79L1397.2,786.79M1287.2,904.5L1397.2,794.5M1287.2,912.21L1397.2,802.21M1287.2,919.92L1397.2,809.92M1287.2,927.63L1397.2,817.63M1287.2,935.34L1397.2,825.34M1287.2,943.05L1397.2,833.05M1287.2,950.76L1397.2,840.76M1287.2,958.47L1397.2,848.47M1287.2,966.18L1397.2,856.18M1287.2,973.89L1397.2,863.89M1287.2,981.6L1397.2,871.6M1287.2,989.31L1397.2,879.31M1287.2,997.02L1397.2,887.02M1287.2,1004.73L1397.2,894.73M1287.2,1012.44L1397.2,902.44M1287.2,1020.15L1397.2,910.15M1287.2,1027.86L1397.2,917.86M1287.2,1035.57L1397.2,925.57M1287.2,1043.28L1397.2,933.28M1287.2,930.34L1397.2,1040.34M1287.2,922.63L1397.2,1032.63M1287.2,914.92L1397.2,1024.92M1287.2,907.21L1397.2,1017.21M1287.2,899.5L1397.2,1009.5M1287.2,891.79L1397.2,1001.79M1287.2,884.08L1397.2,994.08M1287.2,876.37L1397.2,986.37M1287.2,868.66L1397.2,978.66M1287.2,860.95L1397.2,970.95M1287.2,853.24L1397.2,963.24M1287.2,845.53L1397.2,955.53M1287.2,837.82L1397.2,947.82M1287.2,830.11L1397.2,940.11M1287.2,822.4L1397.2,932.4M1287.2,814.69L1397.2,924.69M1287.2,806.98L1397.2,916.98M1287.2,799.27L1397.2,909.27M1287.2,791.56L1397.2,901.56M1287.2,783.85L1397.2,893.85M1287.2,776.14L1397.2,886.14M1287.2,768.43L1397.2,878.43M1287.2,760.72L1397.2,870.72M1287.2,753.01L1397.2,863.01M1287.2,745.3L1397.2,855.3M1287.2,737.59L1397.2,847.59M1287.2,729.88L1397.2,839.88M1287.2,722.17L1397.2,832.17M1287.2,714.46L1397.2,824.46M1287.2,706.75L1397.2,816.75M1287.2,699.04L1397.2,809.04M1287.2,691.33L1397.2,801.33M1287.2,683.62L1397.2,793.62M1287.2,675.91L1397.2,785.91M1287.2,668.2L1397.2,778.2M1287.2,660.49L1397.2,770.49M1287.2,652.78L1397.2,762.78M1287.2,645.07L1397.2,755.07M1287.2,637.36L1397.2,747.36M1287.2,629.65L1397.2,739.65M1287.2,621.94L1397.2,731.94M1287.2,614.23L1397.2,724.23M1287.2,606.52L1397.2,716.52M1287.2,598.81L1397.2,708.81M1287.2,591.1L1397.2,701.1M1287.2,583.39L1397.2,693.39M1287.2,575.68L1397.2,685.68M1287.2,567.97L1397.2,677.97" stroke="#5c5c5c" stroke-width="1.4" fill="none"/>
<rect x="1289.2" y="670" width="106" height="266" fill="none" stroke="#666666" stroke-width="1.4"/>
<line x1="957.8" y1="576.07" x2="957.8" y2="581.27" stroke="#666666" stroke-width="1.4"/>
<line x1="953.4" y1="576.07" x2="962.2" y2="576.07" stroke="#666666" stroke-width="1.4"/>
<line x1="953.4" y1="581.27" x2="962.2" y2="581.27" stroke="#666666" stroke-width="1.4"/>
<line x1="957.8" y1="774.8" x2="957.8" y2="778.8" stroke="#666666" stroke-width="1.4"/>
<line x1="953.4" y1="774.8" x2="962.2" y2="774.8" stroke="#666666" stroke-width="1.4"/>
<line x1="953.4" y1="778.8" x2="962.2" y2="778.8" stroke="#666666" stroke-width="1.4"/>
<line x1="1150" y1="573.27" x2="1150" y2="584.07" stroke="#666666" stroke-width="1.4"/>
<line x1="1145.6" y1="573.27" x2="1154.4" y2="573.27" stroke="#666666" stroke-width="1.4"/>
<line x1="1145.6" y1="584.07" x2="1154.4" y2="584.07" stroke="#666666" stroke-width="1.4"/>
<line x1="1150" y1="683.8" x2="1150" y2="694.6" stroke="#666666" stroke-width="1.4"/>
<line x1="1145.6" y1="683.8" x2="1154.4" y2="683.8" stroke="#666666" stroke-width="1.4"/>
<line x1="1145.6" y1="694.6" x2="1154.4" y2="694.6" stroke="#666666" stroke-width="1.4"/>
<line x1="1342.2" y1="577.87" x2="1342.2" y2="579.47" stroke="#666666" stroke-width="1.4"/>
<line x1="1337.8" y1="577.87" x2="1346.6" y2="577.87" stroke="#666666" stroke-width="1.4"/>
<line x1="1337.8" y1="579.47" x2="1346.6" y2="579.47" stroke="#666666" stroke-width="1.4"/>
<line x1="1342.2" y1="668.5" x2="1342.2" y2="671.5" stroke="#666666" stroke-width="1.4"/>
<line x1="1337.8" y1="668.5" x2="1346.6" y2="668.5" stroke="#666666" stroke-width="1.4"/>
<line x1="1337.8" y1="671.5" x2="1346.6" y2="671.5" stroke="#666666" stroke-width="1.4"/>
<line x1="957.8" y1="658.2" x2="957.8" y2="672.2" stroke="#000" stroke-width="1.6"/>
<line x1="953.5" y1="658.2" x2="962.1" y2="658.2" stroke="#000" stroke-width="1.6"/>
<line x1="953.5" y1="672.2" x2="962.1" y2="672.2" stroke="#000" stroke-width="1.6"/>
<rect x="953.8" y="661.2" width="8" height="8" fill="#fff" stroke="#000" stroke-width="1.2"/>
<line x1="957.8" y1="708" x2="957.8" y2="732" stroke="#000" stroke-width="1.6"/>
<line x1="953.5" y1="708" x2="962.1" y2="708" stroke="#000" stroke-width="1.6"/>
<line x1="953.5" y1="732" x2="962.1" y2="732" stroke="#000" stroke-width="1.6"/>
<rect x="953.2" y="715.4" width="9.2" height="9.2" fill="#000"/>
<line x1="1150" y1="790.6" x2="1150" y2="803" stroke="#000" stroke-width="1.6"/>
<line x1="1145.7" y1="790.6" x2="1154.3" y2="790.6" stroke="#000" stroke-width="1.6"/>
<line x1="1145.7" y1="803" x2="1154.3" y2="803" stroke="#000" stroke-width="1.6"/>
<rect x="1146" y="792.8" width="8" height="8" fill="#fff" stroke="#000" stroke-width="1.2"/>
<line x1="1150" y1="622.8" x2="1150" y2="633.2" stroke="#000" stroke-width="1.6"/>
<line x1="1145.7" y1="622.8" x2="1154.3" y2="622.8" stroke="#000" stroke-width="1.6"/>
<line x1="1145.7" y1="633.2" x2="1154.3" y2="633.2" stroke="#000" stroke-width="1.6"/>
<rect x="1145.4" y="623.4" width="9.2" height="9.2" fill="#000"/>
<line x1="1342.2" y1="831.3" x2="1342.2" y2="839.1" stroke="#000" stroke-width="1.6"/>
<line x1="1337.9" y1="831.3" x2="1346.5" y2="831.3" stroke="#000" stroke-width="1.6"/>
<line x1="1337.9" y1="839.1" x2="1346.5" y2="839.1" stroke="#000" stroke-width="1.6"/>
<rect x="1338.2" y="831.2" width="8" height="8" fill="#fff" stroke="#000" stroke-width="1.2"/>
<line x1="1342.2" y1="632.4" x2="1342.2" y2="662" stroke="#000" stroke-width="1.6"/>
<line x1="1337.9" y1="632.4" x2="1346.5" y2="632.4" stroke="#000" stroke-width="1.6"/>
<line x1="1337.9" y1="662" x2="1346.5" y2="662" stroke="#000" stroke-width="1.6"/>
<rect x="1337.6" y="642.6" width="9.2" height="9.2" fill="#000"/>
</g>
<rect x="860.2" y="507.2" width="578" height="428.8" fill="none" stroke="#000" stroke-width="1.6"/>
<line x1="860.2" y1="936" x2="851.9" y2="936" stroke="#000" stroke-width="1.4"/>
<line x1="860.2" y1="900.27" x2="855.7" y2="900.27" stroke="#000" stroke-width="1.4"/>
<line x1="860.2" y1="864.53" x2="851.9" y2="864.53" stroke="#000" stroke-width="1.4"/>
<line x1="860.2" y1="828.8" x2="855.7" y2="828.8" stroke="#000" stroke-width="1.4"/>
<line x1="860.2" y1="793.07" x2="851.9" y2="793.07" stroke="#000" stroke-width="1.4"/>
<line x1="860.2" y1="757.33" x2="855.7" y2="757.33" stroke="#000" stroke-width="1.4"/>
<line x1="860.2" y1="721.6" x2="851.9" y2="721.6" stroke="#000" stroke-width="1.4"/>
<line x1="860.2" y1="685.87" x2="855.7" y2="685.87" stroke="#000" stroke-width="1.4"/>
<line x1="860.2" y1="650.13" x2="851.9" y2="650.13" stroke="#000" stroke-width="1.4"/>
<line x1="860.2" y1="614.4" x2="855.7" y2="614.4" stroke="#000" stroke-width="1.4"/>
<line x1="860.2" y1="578.67" x2="851.9" y2="578.67" stroke="#000" stroke-width="1.4"/>
<line x1="860.2" y1="542.93" x2="855.7" y2="542.93" stroke="#000" stroke-width="1.4"/>
<line x1="860.2" y1="507.2" x2="851.9" y2="507.2" stroke="#000" stroke-width="1.4"/>
<line x1="1438.2" y1="900.27" x2="1433.7" y2="900.27" stroke="#000" stroke-width="1.4"/>
<line x1="1438.2" y1="864.53" x2="1429.9" y2="864.53" stroke="#000" stroke-width="1.4"/>
<line x1="1438.2" y1="828.8" x2="1433.7" y2="828.8" stroke="#000" stroke-width="1.4"/>
<line x1="1438.2" y1="793.07" x2="1429.9" y2="793.07" stroke="#000" stroke-width="1.4"/>
<line x1="1438.2" y1="757.33" x2="1433.7" y2="757.33" stroke="#000" stroke-width="1.4"/>
<line x1="1438.2" y1="721.6" x2="1429.9" y2="721.6" stroke="#000" stroke-width="1.4"/>
<line x1="1438.2" y1="685.87" x2="1433.7" y2="685.87" stroke="#000" stroke-width="1.4"/>
<line x1="1438.2" y1="650.13" x2="1429.9" y2="650.13" stroke="#000" stroke-width="1.4"/>
<line x1="1438.2" y1="614.4" x2="1433.7" y2="614.4" stroke="#000" stroke-width="1.4"/>
<line x1="1438.2" y1="578.67" x2="1429.9" y2="578.67" stroke="#000" stroke-width="1.4"/>
<line x1="1438.2" y1="542.93" x2="1433.7" y2="542.93" stroke="#000" stroke-width="1.4"/>
<line x1="957.8" y1="936" x2="957.8" y2="944.5" stroke="#000" stroke-width="1.4"/>
<line x1="1150" y1="936" x2="1150" y2="944.5" stroke="#000" stroke-width="1.4"/>
<line x1="1342.2" y1="936" x2="1342.2" y2="944.5" stroke="#000" stroke-width="1.4"/>
<line x1="862.2" y1="936" x2="862.2" y2="940.6" stroke="#000" stroke-width="1.4"/>
<line x1="1054" y1="936" x2="1054" y2="940.6" stroke="#000" stroke-width="1.4"/>
<line x1="1246" y1="936" x2="1246" y2="940.6" stroke="#000" stroke-width="1.4"/>
<line x1="1438.2" y1="936" x2="1438.2" y2="940.6" stroke="#000" stroke-width="1.4"/>
<text x="844.9" y="941.4" font-size="18.5" text-anchor="end" textLength="8.85" lengthAdjust="spacingAndGlyphs">0</text>
<text x="844.9" y="869.93" font-size="18.5" text-anchor="end" textLength="17.7" lengthAdjust="spacingAndGlyphs">20</text>
<text x="844.9" y="798.47" font-size="18.5" text-anchor="end" textLength="17.7" lengthAdjust="spacingAndGlyphs">40</text>
<text x="844.9" y="727" font-size="18.5" text-anchor="end" textLength="17.7" lengthAdjust="spacingAndGlyphs">60</text>
<text x="844.9" y="655.53" font-size="18.5" text-anchor="end" textLength="17.7" lengthAdjust="spacingAndGlyphs">80</text>
<text x="844.9" y="584.07" font-size="18.5" text-anchor="end" textLength="26.55" lengthAdjust="spacingAndGlyphs">100</text>
<text x="844.9" y="512.6" font-size="18.5" text-anchor="end" textLength="26.55" lengthAdjust="spacingAndGlyphs">120</text>
<text x="1447" y="941.4" font-size="18.5" textLength="8.85" lengthAdjust="spacingAndGlyphs">0</text>
<text x="1447" y="869.93" font-size="18.5" textLength="17.7" lengthAdjust="spacingAndGlyphs">10</text>
<text x="1447" y="798.47" font-size="18.5" textLength="17.7" lengthAdjust="spacingAndGlyphs">20</text>
<text x="1447" y="727" font-size="18.5" textLength="17.7" lengthAdjust="spacingAndGlyphs">30</text>
<text x="1447" y="655.53" font-size="18.5" textLength="17.7" lengthAdjust="spacingAndGlyphs">40</text>
<text x="1447" y="584.07" font-size="18.5" textLength="17.7" lengthAdjust="spacingAndGlyphs">50</text>
<text x="1447" y="512.6" font-size="18.5" textLength="17.7" lengthAdjust="spacingAndGlyphs">60</text>
<text x="919.6" y="963.9" font-size="19" textLength="76.6" lengthAdjust="spacingAndGlyphs">Untreated</text>
<text x="1077.4" y="963.9" font-size="19" textLength="140.4" lengthAdjust="spacingAndGlyphs">Ozonation process</text>
<text x="1234.8" y="963.9" font-size="19" textLength="209.2" lengthAdjust="spacingAndGlyphs">Catalytic ozonation process</text>
<text x="1047.3" y="999" font-size="23" textLength="205.8" lengthAdjust="spacingAndGlyphs">Processing techniques</text>
<text x="777.2" y="905.2" font-size="23.2" textLength="315.6" lengthAdjust="spacingAndGlyphs" transform="rotate(-90 777.2 905.2)">The ratio of HIM and HOM TOC</text>
<text x="803.9" y="874" font-size="23.2" textLength="250.4" lengthAdjust="spacingAndGlyphs" transform="rotate(-90 803.9 874)">in total organics carbon/%</text>
<text x="1491.8" y="857.8" font-size="23.2" textLength="244.2" lengthAdjust="spacingAndGlyphs" transform="rotate(-90 1491.8 857.8)">TOC concentration /mg/L</text>
<text x="1392.7" y="540.1" font-size="24" textLength="31.6" lengthAdjust="spacingAndGlyphs">(d)</text>
<rect x="1025.8" y="518.6" width="47.8" height="22.4" fill="#fff"/>
<rect x="1025.8" y="518.6" width="47.8" height="22.4" fill="none" stroke="#666666" stroke-width="1.4"/>
<rect x="1025.8" y="547.3" width="47.8" height="22.1" fill="#fff"/>
<path clip-path="url(#c45)" d="M1023.8,550.5L1075.6,498.7M1023.8,558.21L1075.6,506.41M1023.8,565.92L1075.6,514.12M1023.8,573.63L1075.6,521.83M1023.8,581.34L1075.6,529.54M1023.8,589.05L1075.6,537.25M1023.8,596.76L1075.6,544.96M1023.8,604.47L1075.6,552.67M1023.8,612.18L1075.6,560.38M1023.8,560.92L1075.6,612.72M1023.8,553.21L1075.6,605.01M1023.8,545.5L1075.6,597.3M1023.8,537.79L1075.6,589.59M1023.8,530.08L1075.6,581.88M1023.8,522.37L1075.6,574.17M1023.8,514.66L1075.6,566.46M1023.8,506.95L1075.6,558.75M1023.8,499.24L1075.6,551.04" stroke="#5c5c5c" stroke-width="1.4" fill="none"/>
<rect x="1025.8" y="547.3" width="47.8" height="22.1" fill="none" stroke="#666666" stroke-width="1.4"/>
<rect x="1188.4" y="526.1" width="8.4" height="8.4" fill="#fff" stroke="#000" stroke-width="1.2"/>
<rect x="1187.9" y="554.5" width="9" height="9" fill="#000"/>
<text x="1078.8" y="538" font-size="18" textLength="74.3" lengthAdjust="spacingAndGlyphs">HOM: %</text>
<text x="1078.8" y="566.1" font-size="18" textLength="67.9" lengthAdjust="spacingAndGlyphs">HIM: %</text>
<text x="1222.2" y="538" font-size="18" textLength="96" lengthAdjust="spacingAndGlyphs">HOM: mg/L</text>
<text x="1220.7" y="566.1" font-size="18" textLength="88.9" lengthAdjust="spacingAndGlyphs">HIM: mg/L</text></svg></body></html>
